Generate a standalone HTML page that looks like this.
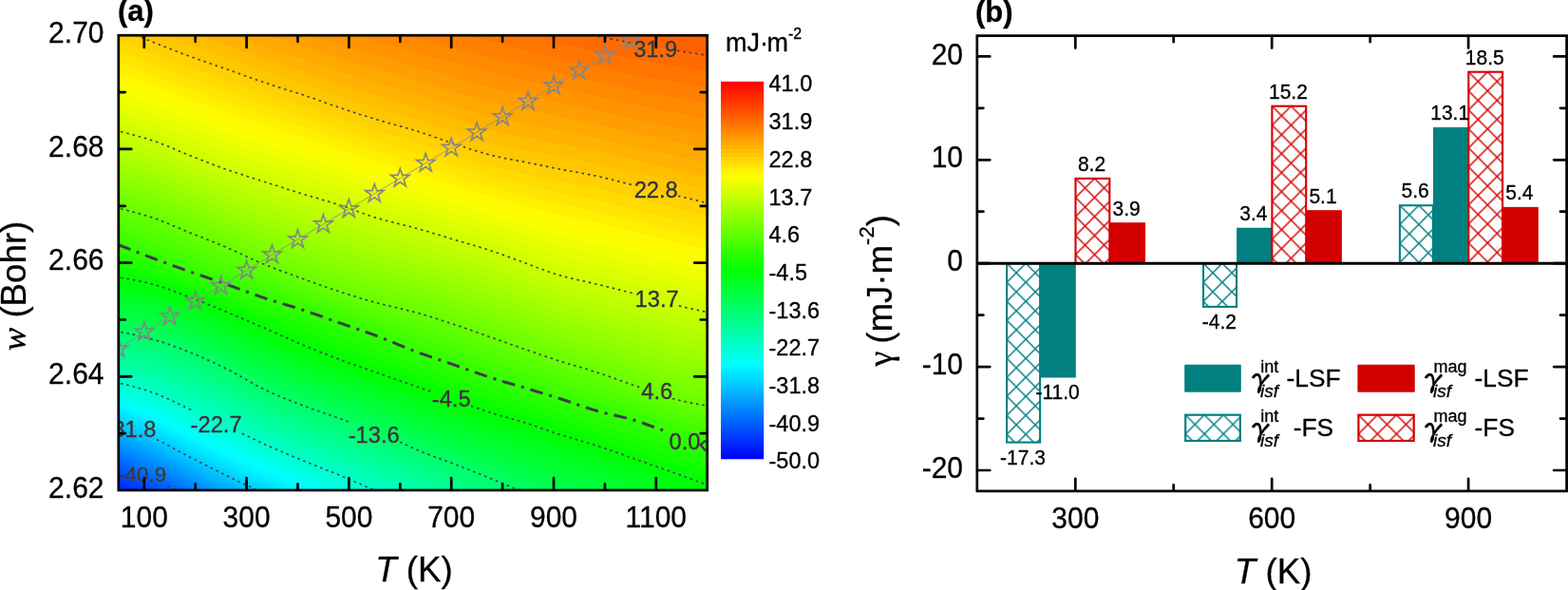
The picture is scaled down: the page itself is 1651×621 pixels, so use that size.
<!DOCTYPE html><html><head><meta charset="utf-8"><title>figure</title><style>html,body{margin:0;padding:0;background:#fff;width:1651px;height:621px;overflow:hidden}text{stroke:#000;stroke-width:.3px}</style></head><body>
<svg width="1651" height="621" viewBox="0 0 1651 621" style="position:absolute;left:0;top:0">
<defs>
<clipPath id="cpL"><rect x="124.8" y="37.2" width="619.9000000000001" height="478.8"/></clipPath>
</defs>
<g clip-path="url(#cpL)">
<rect x="124.8" y="37.2" width="619.9000000000001" height="478.8" fill="rgb(255,87,0)"/>
<path d="M121,34.2 703,34.2 748,41.2 L748,519.0 L121,519.0Z" fill="rgb(255,97,0)"/>
<path d="M121,34.2 613,34.2 640,40.3 664,45.0 748,58.8 L748,519.0 L121,519.0Z" fill="rgb(255,107,0)"/>
<path d="M121,34.2 547,34.3 610,50.1 646,58.2 685,65.5 748,76.1 L748,519.0 L121,519.0Z" fill="rgb(255,117,0)"/>
<path d="M121,34.2 478,34.2 601,64.2 637,72.5 679,80.9 748,93.1 L748,519.0 L121,519.0Z" fill="rgb(255,128,0)"/>
<path d="M121,34.2 418,34.3 508,58.0 607,81.5 664,93.9 748,109.7 L748,519.0 L121,519.0Z" fill="rgb(255,138,0)"/>
<path d="M121,34.2 361,34.2 364,34.7 397,44.0 442,55.9 493,70.3 517,76.6 658,108.1 748,126.0 L748,519.0 L121,519.0Z" fill="rgb(255,148,0)"/>
<path d="M121,34.2 316,34.2 379,53.7 439,70.2 493,86.1 514,91.8 628,116.3 670,125.7 748,141.8 L748,519.0 L121,519.0Z" fill="rgb(255,158,0)"/>
<path d="M121,34.2 274,34.2 367,64.3 397,73.2 439,84.7 475,96.0 511,106.6 526,110.1 628,130.8 670,140.4 748,157.2 L748,519.0 L121,519.0Z" fill="rgb(255,168,0)"/>
<path d="M121,34.2 235,34.2 238,34.6 280,49.6 319,62.0 361,76.1 397,87.1 442,99.7 475,110.4 511,121.4 526,124.9 628,145.0 670,154.8 748,172.2 L748,519.0 L121,519.0Z" fill="rgb(255,178,0)"/>
<path d="M121,34.2 199,34.2 202,35.0 280,62.6 319,75.0 361,89.4 397,100.5 442,113.3 475,124.3 511,135.6 529,139.7 631,159.4 748,186.7 L748,519.0 L121,519.0Z" fill="rgb(255,189,0)"/>
<path d="M121,34.2 166,34.2 205,48.8 283,76.2 319,87.6 373,106.0 400,114.4 442,126.4 475,137.6 508,148.2 529,153.2 631,172.8 748,200.8 L748,519.0 L121,519.0Z" fill="rgb(255,199,0)"/>
<path d="M121,34.2 136,34.2 172,48.7 196,57.9 277,86.4 319,99.9 376,119.4 400,126.9 442,139.0 475,150.2 508,160.9 529,166.1 631,186.0 748,214.4 L748,519.0 L121,519.0Z" fill="rgb(255,209,0)"/>
<path d="M121,40.7 199,71.0 274,97.2 319,111.7 382,133.2 400,138.8 442,150.8 475,162.1 508,172.8 520,176.0 532,178.7 589,190.7 634,199.4 748,227.5 L748,519.0 L121,519.0Z" fill="rgb(255,219,0)"/>
<path d="M121,52.6 145,61.5 202,83.5 274,108.6 322,124.0 388,146.3 442,162.0 475,173.2 508,183.8 526,188.6 583,201.6 634,211.8 748,240.0 L748,519.0 L121,519.0Z" fill="rgb(255,229,0)"/>
<path d="M121,64.2 145,72.7 208,96.8 268,117.6 325,135.8 391,158.1 442,172.8 475,183.8 508,194.2 526,199.1 580,212.6 637,224.4 748,252.1 L748,519.0 L121,519.0Z" fill="rgb(255,240,0)"/>
<path d="M121,75.5 160,89.1 214,109.8 256,124.3 334,149.3 394,169.5 442,183.1 505,203.3 583,224.7 637,236.1 748,263.8 L748,519.0 L121,519.0Z" fill="rgb(255,250,0)"/>
<path d="M121,86.4 160,99.4 199,114.7 238,128.8 283,143.5 349,164.4 397,180.7 439,192.2 502,212.1 583,235.7 595,238.7 640,248.2 712,266.4 748,275.1 L748,519.0 L121,519.0Z" fill="rgb(250,255,0)"/>
<path d="M121,97.0 145,104.4 163,110.6 202,126.0 241,140.2 352,175.2 397,190.6 442,203.0 478,214.3 586,247.4 643,260.0 712,277.6 748,286.3 L748,519.0 L121,519.0Z" fill="rgb(240,255,0)"/>
<path d="M121,107.3 145,114.4 163,120.4 214,140.5 232,147.1 250,153.2 355,185.9 394,199.5 448,214.5 520,236.5 580,256.2 595,260.3 628,267.4 652,273.1 712,288.7 748,297.3 L748,519.0 L121,519.0Z" fill="rgb(230,255,0)"/>
<path d="M121,117.3 127,119.3 145,124.2 163,130.0 217,151.4 250,163.1 313,182.9 355,195.6 397,210.2 442,222.2 517,244.9 583,267.5 598,271.5 628,278.1 655,284.6 712,299.6 748,308.1 L748,519.0 L121,519.0Z" fill="rgb(219,255,0)"/>
<path d="M121,127.1 127,129.1 145,133.8 163,139.5 217,161.0 235,167.7 250,172.7 316,193.6 355,205.3 397,219.8 442,231.8 514,253.4 529,258.4 574,274.7 586,278.6 601,282.6 628,288.6 655,295.2 712,310.4 748,318.8 L748,519.0 L121,519.0Z" fill="rgb(209,255,0)"/>
<path d="M121,136.7 127,138.6 145,143.2 163,148.7 220,171.5 253,183.2 316,203.2 358,215.9 394,228.6 442,241.3 514,262.9 529,268.0 574,284.7 586,288.8 601,292.8 628,299.0 661,307.2 712,321.1 748,329.5 L748,519.0 L121,519.0Z" fill="rgb(199,255,0)"/>
<path d="M121,145.8 127,147.7 145,152.2 163,157.7 223,181.7 241,188.3 262,195.4 316,212.9 358,225.6 394,238.2 442,250.7 511,271.4 526,276.5 571,293.4 586,298.6 598,302.0 628,309.2 658,316.9 709,331.1 748,340.1 L748,519.0 L121,519.0Z" fill="rgb(189,255,0)"/>
<path d="M121,154.5 127,156.4 148,161.6 166,167.2 199,180.8 235,194.8 262,204.5 301,217.7 358,235.4 394,247.8 442,260.0 511,280.8 526,286.0 571,303.0 586,308.3 598,311.7 625,318.3 646,323.9 706,341.1 724,345.4 748,350.6 L748,519.0 L121,519.0Z" fill="rgb(179,255,0)"/>
<path d="M121,162.9 127,164.8 145,169.0 163,174.4 172,177.7 196,187.9 220,197.4 268,215.6 313,231.2 358,245.3 388,255.4 403,259.7 433,266.7 445,269.9 505,288.2 526,295.3 577,314.6 592,319.5 637,331.2 706,351.8 724,356.0 748,361.0 L748,519.0 L121,519.0Z" fill="rgb(168,255,0)"/>
<path d="M121,171.0 127,172.9 148,177.9 166,183.4 202,198.4 274,226.7 319,242.6 385,263.9 403,269.0 439,277.2 460,283.3 517,301.3 571,321.6 586,326.9 598,330.4 634,339.9 700,360.6 721,365.8 748,371.1 L748,519.0 L121,519.0Z" fill="rgb(158,255,0)"/>
<path d="M121,179.0 127,180.9 148,185.8 166,191.3 274,235.5 307,247.6 337,257.8 394,275.8 436,285.3 463,293.1 517,310.5 571,330.7 586,335.9 634,349.3 700,370.9 721,376.1 748,381.1 L748,519.0 L121,519.0Z" fill="rgb(148,255,0)"/>
<path d="M121,186.8 127,188.7 148,193.6 166,199.2 238,228.6 277,245.2 310,257.6 343,268.9 391,283.9 403,287.0 436,294.1 463,301.9 517,319.6 583,343.8 595,347.5 634,358.5 700,380.9 721,386.0 748,390.9 L748,519.0 L121,519.0Z" fill="rgb(138,255,0)"/>
<path d="M121,194.6 127,196.5 148,201.4 160,205.0 169,208.1 199,220.7 238,236.5 277,253.7 310,266.2 346,278.7 391,292.7 403,295.7 436,302.8 460,309.6 511,326.4 583,352.5 595,356.3 631,366.5 700,390.5 721,395.7 748,400.5 L748,519.0 L121,519.0Z" fill="rgb(128,255,0)"/>
<path d="M121,202.3 127,204.2 148,209.2 169,215.9 238,244.4 268,258.0 280,263.1 313,275.6 349,288.2 391,301.1 403,304.1 436,311.4 460,318.3 505,333.2 580,360.1 595,364.9 631,375.4 700,399.8 721,405.0 748,409.8 L748,519.0 L121,519.0Z" fill="rgb(117,255,0)"/>
<path d="M121,210.1 127,212.0 148,217.2 169,223.9 238,252.2 268,266.0 280,271.1 310,282.5 349,296.3 373,304.0 391,309.2 403,312.3 436,319.9 460,326.9 496,338.9 583,369.6 634,385.1 700,408.7 721,414.0 748,418.9 L748,519.0 L121,519.0Z" fill="rgb(107,255,0)"/>
<path d="M121,217.9 127,219.8 148,225.2 169,232.1 238,260.1 268,273.9 280,279.0 307,289.1 352,305.1 391,317.1 436,328.4 460,335.5 490,345.5 580,377.0 637,394.7 700,417.2 724,423.3 748,427.8 L748,519.0 L121,519.0Z" fill="rgb(97,255,0)"/>
<path d="M121,225.6 148,233.7 169,240.8 238,268.2 268,281.5 280,286.4 352,312.1 388,323.4 439,337.6 460,344.1 577,384.1 628,400.2 655,409.0 700,425.0 724,431.3 748,436.1 L748,519.0 L121,519.0Z" fill="rgb(87,255,0)"/>
<path d="M121,233.4 148,242.4 169,249.9 238,276.3 280,293.5 355,319.5 457,351.7 520,373.3 559,386.2 616,404.6 667,420.3 700,432.1 724,438.6 748,443.9 L748,519.0 L121,519.0Z" fill="rgb(77,255,0)"/>
<path d="M121,241.0 193,267.9 238,284.2 280,300.4 319,313.1 358,326.6 397,339.5 433,352.1 481,368.2 517,380.8 625,415.4 667,427.2 703,439.8 724,445.8 748,451.6 L748,519.0 L121,519.0Z" fill="rgb(66,255,0)"/>
<path d="M121,248.5 178,270.4 238,291.7 274,305.1 322,320.3 388,343.0 439,362.2 514,388.1 586,410.4 625,423.2 667,434.3 706,447.7 727,453.8 748,459.3 L748,519.0 L121,519.0Z" fill="rgb(56,255,0)"/>
<path d="M121,255.8 157,269.9 187,280.9 277,312.8 322,326.9 385,348.9 400,354.4 439,370.0 511,395.1 586,418.0 625,431.0 667,441.6 706,455.0 748,467.4 L748,519.0 L121,519.0Z" fill="rgb(46,255,0)"/>
<path d="M121,263.1 274,318.3 322,334.1 388,357.5 400,362.0 439,377.7 508,401.9 523,406.8 577,422.9 625,438.6 670,450.5 700,461.0 748,476.0 L748,519.0 L121,519.0Z" fill="rgb(36,255,0)"/>
<path d="M121,270.3 160,282.9 178,289.2 226,306.6 280,326.9 394,367.7 439,385.3 505,408.5 523,414.3 562,425.8 625,446.0 670,458.8 697,468.3 748,485.1 L748,519.0 L121,519.0Z" fill="rgb(26,255,0)"/>
<path d="M121,277.4 157,287.3 178,294.2 223,310.9 355,362.1 397,376.9 436,391.6 502,414.9 520,420.8 556,431.3 601,445.9 667,466.3 748,494.3 L748,519.0 L121,519.0Z" fill="rgb(15,255,0)"/>
<path d="M121,284.2 157,292.7 166,295.2 178,299.3 232,319.9 316,354.7 352,368.9 433,397.8 472,411.2 499,421.1 520,428.0 556,438.6 589,449.7 640,465.5 703,487.1 748,503.2 L748,519.0 L121,519.0Z" fill="rgb(5,255,0)"/>
<path d="M121,290.8 127,292.3 139,294.3 154,297.5 166,300.6 175,303.5 223,321.9 262,338.2 319,363.1 343,372.8 364,380.8 469,417.3 508,431.4 556,445.9 589,457.2 622,467.1 637,471.9 706,496.2 748,511.7 L748,519.0 L121,519.0Z" fill="rgb(0,255,5)"/>
<path d="M121,297.0 127,298.5 142,300.8 157,304.0 166,306.3 178,310.2 205,320.4 223,327.7 256,341.8 316,368.7 337,377.3 361,386.6 469,424.4 505,437.6 523,443.5 556,453.3 592,465.7 631,477.3 706,504.0 745,518.6 748,519.0 L748,519.0 L121,519.0Z" fill="rgb(0,255,15)"/>
<path d="M121,303.1 127,304.5 142,306.7 157,309.8 169,312.9 181,317.0 208,327.3 229,336.1 250,345.3 310,372.7 337,384.0 385,401.9 469,431.4 505,444.7 523,450.7 559,461.7 592,473.2 631,484.8 724,518.3 727,519.0 748,519.0 L748,519.0 L121,519.0Z" fill="rgb(0,255,26)"/>
<path d="M121,308.9 127,310.4 145,313.1 160,316.3 172,319.6 184,323.8 208,333.1 229,342.0 304,376.6 331,388.1 391,410.7 421,421.1 475,440.5 496,448.5 520,456.9 559,469.2 592,480.7 631,492.2 667,505.5 706,519.0 748,519.0 L748,519.0 L121,519.0Z" fill="rgb(0,255,36)"/>
<path d="M121,314.7 127,316.1 145,318.9 160,322.1 169,324.5 181,328.5 205,337.7 223,345.2 244,354.7 277,370.8 301,381.8 319,389.6 340,397.9 394,418.2 421,427.6 442,435.6 472,446.3 517,463.0 541,471.2 559,476.7 589,487.2 631,499.7 682,518.2 685,519.0 748,519.0 L748,519.0 L121,519.0Z" fill="rgb(0,255,46)"/>
<path d="M121,320.3 127,321.8 145,324.7 160,328.0 172,331.3 184,335.5 205,343.5 223,351.1 244,360.8 274,375.9 286,381.6 310,392.2 331,400.7 367,414.0 394,424.6 421,434.0 445,443.4 538,477.6 559,484.1 592,495.5 628,506.1 661,518.1 664,519.0 748,519.0 L748,519.0 L121,519.0Z" fill="rgb(0,255,56)"/>
<path d="M121,325.9 127,327.4 145,330.5 160,333.8 172,337.2 187,342.4 205,349.3 223,357.0 244,366.8 280,385.4 301,394.8 325,404.6 367,420.0 394,430.9 421,440.3 445,450.1 475,461.0 541,485.9 559,491.4 589,501.8 625,512.5 643,518.7 646,519.0 748,519.0 L748,519.0 L121,519.0Z" fill="rgb(0,255,66)"/>
<path d="M121,331.4 127,332.9 145,336.2 163,340.4 175,344.1 190,349.4 208,356.4 226,364.3 244,372.9 280,391.9 298,399.9 316,407.2 367,426.0 394,437.1 421,446.6 445,456.6 478,468.8 541,493.1 559,498.6 586,508.0 598,511.8 622,518.8 625,519.0 748,519.0 L748,519.0 L121,519.0Z" fill="rgb(0,255,76)"/>
<path d="M121,336.9 127,338.5 145,341.9 163,346.3 178,350.9 193,356.4 211,363.6 229,371.7 244,379.0 277,396.8 289,402.4 307,409.9 325,416.9 367,432.0 394,443.3 421,452.8 442,462.0 478,475.4 541,500.2 559,505.7 598,518.8 748,519.0 L748,519.0 L121,519.0Z" fill="rgb(0,255,87)"/>
<path d="M121,342.4 127,344.0 145,347.6 163,352.1 178,356.8 196,363.4 214,370.8 232,379.1 244,385.0 277,403.1 298,412.4 325,422.9 367,438.0 394,449.5 421,459.1 442,468.4 484,484.2 541,507.1 559,512.6 577,518.8 748,519.0 L748,519.0 L121,519.0Z" fill="rgb(0,255,97)"/>
<path d="M121,347.9 127,349.6 145,353.2 163,357.8 178,362.6 199,370.5 217,378.1 238,388.0 274,407.7 283,412.1 295,417.3 322,427.9 367,444.0 394,455.7 421,465.3 442,474.7 493,494.2 541,513.8 556,518.3 559,519.0 748,519.0 L748,519.0 L121,519.0Z" fill="rgb(0,255,107)"/>
<path d="M121,353.5 127,355.2 145,358.9 163,363.5 178,368.4 196,375.3 214,382.8 238,394.1 274,413.8 292,422.1 322,434.0 367,450.2 394,461.9 421,471.5 442,481.1 493,500.5 538,519.0 748,519.0 L748,519.0 L121,519.0Z" fill="rgb(0,255,117)"/>
<path d="M121,359.1 127,360.8 145,364.5 163,369.3 175,373.2 190,378.9 211,387.6 235,398.8 247,404.9 274,419.8 292,428.1 322,440.0 364,455.1 394,468.1 421,477.7 445,488.5 484,503.3 523,519.0 748,519.0 L748,519.0 L121,519.0Z" fill="rgb(0,255,128)"/>
<path d="M121,364.8 127,366.5 145,370.2 160,374.2 172,378.1 187,383.8 208,392.5 238,406.5 274,425.7 292,434.0 322,445.9 364,461.3 394,474.3 421,483.9 445,494.7 478,507.1 508,519.0 748,519.0 L748,519.0 L121,519.0Z" fill="rgb(0,255,138)"/>
<path d="M121,370.4 127,372.2 142,375.2 157,379.1 169,382.9 181,387.4 208,398.8 238,412.8 250,418.7 274,431.5 292,439.8 322,451.8 364,467.4 394,480.4 421,490.0 439,498.4 448,502.0 493,519.0 748,519.0 L748,519.0 L121,519.0Z" fill="rgb(0,255,148)"/>
<path d="M121,376.0 127,377.8 139,380.1 154,384.0 166,387.6 178,392.1 205,403.6 241,420.4 277,438.8 292,445.6 322,457.7 364,473.6 394,486.5 421,496.1 439,504.4 448,508.1 478,519.0 748,519.0 L748,519.0 L121,519.0Z" fill="rgb(0,255,158)"/>
<path d="M121,381.4 127,383.2 139,385.6 151,388.7 163,392.3 175,396.7 208,411.2 247,429.4 277,444.5 292,451.2 322,463.5 361,478.4 394,492.5 421,502.1 439,510.4 460,518.6 463,519.0 748,519.0 L748,519.0 L121,519.0Z" fill="rgb(0,255,168)"/>
<path d="M121,386.7 127,388.6 139,391.1 151,394.2 163,397.9 172,401.2 205,415.9 250,436.8 277,450.2 292,456.9 322,469.2 361,484.4 394,498.5 421,508.1 445,518.8 748,519.0 L748,519.0 L121,519.0Z" fill="rgb(0,255,178)"/>
<path d="M121,391.8 127,393.8 139,396.3 151,399.6 163,403.4 172,406.8 250,442.7 277,455.8 292,462.5 322,474.9 361,490.2 394,504.3 418,512.8 433,519.0 748,519.0 L748,519.0 L121,519.0Z" fill="rgb(0,255,189)"/>
<path d="M121,396.8 127,398.8 136,400.8 148,404.0 160,407.7 169,411.0 184,417.7 226,437.8 253,449.8 277,461.3 292,468.0 322,480.5 358,494.8 394,510.1 418,518.5 421,519.0 748,519.0 L748,519.0 L121,519.0Z" fill="rgb(0,255,199)"/>
<path d="M121,401.6 127,403.7 148,409.1 160,412.9 169,416.3 181,421.7 226,443.4 253,455.4 286,470.9 319,484.8 358,500.4 391,514.5 403,519.0 748,519.0 L748,519.0 L121,519.0Z" fill="rgb(0,255,209)"/>
<path d="M121,406.2 127,408.3 139,411.3 151,415.0 169,421.5 181,427.0 226,449.0 256,462.4 283,475.0 319,490.3 358,506.0 388,518.8 748,519.0 L748,519.0 L121,519.0Z" fill="rgb(0,255,219)"/>
<path d="M121,410.5 127,412.7 148,418.8 166,425.3 178,430.7 226,454.4 256,467.9 283,480.5 316,494.5 376,519.0 748,519.0 L748,519.0 L121,519.0Z" fill="rgb(0,255,229)"/>
<path d="M121,414.7 127,416.9 148,423.5 166,430.3 178,435.8 226,459.7 283,486.0 322,502.5 361,518.2 364,519.0 748,519.0 L748,519.0 L121,519.0Z" fill="rgb(0,255,240)"/>
<path d="M121,418.7 151,429.2 166,435.1 226,464.9 280,490.0 310,502.9 349,518.7 352,519.0 748,519.0 L748,519.0 L121,519.0Z" fill="rgb(0,255,250)"/>
<path d="M121,422.7 151,433.8 166,439.9 226,470.0 277,494.0 307,507.0 337,519.0 748,519.0 L748,519.0 L121,519.0Z" fill="rgb(0,250,255)"/>
<path d="M121,426.6 163,443.3 226,475.0 277,499.2 319,517.2 322,518.4 325,519.0 748,519.0 L748,519.0 L121,519.0Z" fill="rgb(0,240,255)"/>
<path d="M121,430.6 163,447.9 214,474.0 238,485.8 280,505.7 310,518.6 313,519.0 748,519.0 L748,519.0 L121,519.0Z" fill="rgb(0,230,255)"/>
<path d="M121,434.5 163,452.5 214,478.8 247,495.1 283,512.1 298,518.6 301,519.0 748,519.0 L748,519.0 L121,519.0Z" fill="rgb(0,219,255)"/>
<path d="M121,438.5 163,457.1 199,475.9 238,495.5 280,515.6 286,518.3 289,519.0 748,519.0 L748,519.0 L121,519.0Z" fill="rgb(0,209,255)"/>
<path d="M121,442.6 163,461.6 223,492.8 277,519.0 748,519.0 L748,519.0 L121,519.0Z" fill="rgb(0,199,255)"/>
<path d="M121,446.8 163,466.1 223,497.3 253,512.2 268,519.0 748,519.0 L748,519.0 L121,519.0Z" fill="rgb(0,189,255)"/>
<path d="M121,450.9 163,470.4 220,500.2 253,516.6 259,519.0 748,519.0 L748,519.0 L121,519.0Z" fill="rgb(0,178,255)"/>
<path d="M121,455.1 163,474.7 214,501.5 247,518.0 250,519.0 748,519.0 L748,519.0 L121,519.0Z" fill="rgb(0,168,255)"/>
<path d="M121,459.3 166,480.5 205,501.1 241,519.0 748,519.0 L748,519.0 L121,519.0Z" fill="rgb(0,158,255)"/>
<path d="M121,463.5 166,484.7 199,502.2 232,518.9 748,519.0 L748,519.0 L121,519.0Z" fill="rgb(0,148,255)"/>
<path d="M121,467.7 169,490.4 223,518.5 226,519.0 748,519.0 L748,519.0 L121,519.0Z" fill="rgb(0,138,255)"/>
<path d="M121,471.9 166,493.1 214,518.1 217,519.0 748,519.0 L748,519.0 L121,519.0Z" fill="rgb(0,128,255)"/>
<path d="M121,476.1 172,500.2 208,519.0 748,519.0 L748,519.0 L121,519.0Z" fill="rgb(0,117,255)"/>
<path d="M121,480.3 172,504.4 199,518.7 202,519.0 748,519.0 L748,519.0 L121,519.0Z" fill="rgb(0,107,255)"/>
<path d="M121,484.5 172,508.6 190,518.2 193,519.0 748,519.0 L748,519.0 L121,519.0Z" fill="rgb(0,97,255)"/>
<path d="M121,488.7 172,512.9 184,519.0 748,519.0 L748,519.0 L121,519.0Z" fill="rgb(0,87,255)"/>
<path d="M121,492.9 175,518.6 178,519.0 748,519.0 L748,519.0 L121,519.0Z" fill="rgb(0,77,255)"/>
<path d="M121,497.1 166,518.5 169,519.0 748,519.0 L748,519.0 L121,519.0Z" fill="rgb(0,66,255)"/>
<path d="M121,501.3 157,518.5 160,519.0 748,519.0 L748,519.0 L121,519.0Z" fill="rgb(0,56,255)"/>
<path d="M121,505.5 148,518.3 151,519.0 748,519.0 L748,519.0 L121,519.0Z" fill="rgb(0,46,255)"/>
<path d="M121,509.7 139,518.2 142,519.0 748,519.0 L748,519.0 L121,519.0Z" fill="rgb(0,36,255)"/>
<path d="M121,513.8 130,518.1 133,519.0 748,519.0 L748,519.0 L121,519.0Z" fill="rgb(0,25,255)"/>
</g>
<g clip-path="url(#cpL)" fill="none">
<path d="M605,32.2 606,32.5 607,32.7 608,33.0 609,33.2 610,33.4 611,33.7 612,33.9 613,34.2 614,34.4 615,34.7 616,34.9 617,35.1 618,35.4 619,35.6 620,35.8 621,36.1 622,36.3 623,36.5 624,36.8 625,37.0 626,37.2 627,37.5 628,37.7 629,37.9 630,38.1 631,38.4 632,38.6 633,38.8 634,39.0 635,39.2 636,39.4 637,39.7 638,39.9 639,40.1 640,40.3 641,40.5 642,40.7 643,40.9 644,41.1 645,41.3 646,41.5 647,41.7 648,41.9 649,42.1 650,42.3 651,42.5 652,42.7 653,42.9 654,43.1 655,43.3 656,43.5 657,43.7 658,43.9 659,44.1 660,44.2 661,44.4 662,44.6 663,44.8 664,45.0 665,45.2 666,45.3 667,45.5M713,53.3 714,53.4 715,53.6 716,53.7 717,53.9 718,54.1 719,54.2 720,54.4 721,54.6 722,54.7 723,54.9 724,55.0 725,55.2 726,55.4 727,55.5 728,55.7 729,55.8 730,56.0 731,56.1 732,56.3 733,56.5 734,56.6 735,56.8 736,56.9 737,57.1 738,57.2 739,57.4 740,57.6 741,57.7 742,57.9 743,58.0 744,58.2 745,58.3 746,58.5 747,58.6 748,58.8 749,58.9 750,59.1" stroke="#3d3a4c" stroke-width="1.6" stroke-dasharray="2.5 3.9"/>
<path d="M131,32.2 132,32.6 133,33.0 134,33.4 135,33.8 136,34.2 137,34.6 138,35.0 139,35.4 140,35.8 141,36.2 142,36.6 143,37.0 144,37.3 145,37.7 146,38.2 147,38.6 148,39.0 149,39.4 150,39.8 151,40.2 152,40.6 153,41.1 154,41.5 155,41.9 156,42.3 157,42.7 158,43.1 159,43.5 160,43.9 161,44.3 162,44.7 163,45.1 164,45.5 165,45.9 166,46.3 167,46.7 168,47.1 169,47.5 170,47.9 171,48.3 172,48.7 173,49.1 174,49.5 175,49.9 176,50.3 177,50.7 178,51.1 179,51.5 180,51.8 181,52.2 182,52.6 183,53.0 184,53.4 185,53.8 186,54.1 187,54.5 188,54.9 189,55.3 190,55.7 191,56.0 192,56.4 193,56.8 194,57.2 195,57.5 196,57.9 197,58.3 198,58.6 199,59.0 200,59.4 201,59.8 202,60.1 203,60.5 204,60.8 205,61.2 206,61.6 207,61.9 208,62.3 209,62.6 210,63.0 211,63.3 212,63.7 213,64.0 214,64.4 215,64.7 216,65.1 217,65.4 218,65.7 219,66.1 220,66.4 221,66.8 222,67.1 223,67.5 224,67.8 225,68.1 226,68.5 227,68.8 228,69.2 229,69.5 230,69.9 231,70.2 232,70.5 233,70.9 234,71.2 235,71.6 236,71.9 237,72.3 238,72.6 239,73.0 240,73.3 241,73.7 242,74.0 243,74.4 244,74.7 245,75.1 246,75.5 247,75.8 248,76.2 249,76.5 250,76.9 251,77.2 252,77.6 253,78.0 254,78.3 255,78.7 256,79.0 257,79.4 258,79.8 259,80.1 260,80.5 261,80.8 262,81.2 263,81.5 264,81.9 265,82.3 266,82.6 267,83.0 268,83.3 269,83.7 270,84.0 271,84.4 272,84.7 273,85.1 274,85.4 275,85.8 276,86.1 277,86.4 278,86.8 279,87.1 280,87.5 281,87.8 282,88.1 283,88.5 284,88.8 285,89.1 286,89.4 287,89.8 288,90.1 289,90.4 290,90.7 291,91.0 292,91.4 293,91.7 294,92.0 295,92.3 296,92.6 297,92.9 298,93.2 299,93.5 300,93.9 301,94.2 302,94.5 303,94.8 304,95.1 305,95.4 306,95.7 307,96.0 308,96.3 309,96.6 310,97.0 311,97.3 312,97.6 313,97.9 314,98.2 315,98.6 316,98.9 317,99.2 318,99.5 319,99.9 320,100.2 321,100.5 322,100.9 323,101.2 324,101.6 325,101.9 326,102.2 327,102.6 328,102.9 329,103.3 330,103.6 331,104.0 332,104.4 333,104.7 334,105.1 335,105.4 336,105.8 337,106.1 338,106.5 339,106.8 340,107.2 341,107.6 342,107.9 343,108.3 344,108.6 345,109.0 346,109.3 347,109.7 348,110.0 349,110.4 350,110.7 351,111.1 352,111.4 353,111.8 354,112.1 355,112.5 356,112.8 357,113.1 358,113.5 359,113.8 360,114.1 361,114.5 362,114.8 363,115.1 364,115.5 365,115.8 366,116.1 367,116.5 368,116.8 369,117.1 370,117.4 371,117.8 372,118.1 373,118.4 374,118.7 375,119.1 376,119.4 377,119.7 378,120.0 379,120.4 380,120.7 381,121.0 382,121.3 383,121.6 384,121.9 385,122.3 386,122.6 387,122.9 388,123.2 389,123.5 390,123.8 391,124.1 392,124.4 393,124.8 394,125.1 395,125.4 396,125.7 397,126.0 398,126.3 399,126.6 400,126.9 401,127.2 402,127.5 403,127.7 404,128.0 405,128.3 406,128.6 407,128.9 408,129.2 409,129.5 410,129.7 411,130.0 412,130.3 413,130.6 414,130.9 415,131.1 416,131.4 417,131.7 418,132.0 419,132.2 420,132.5 421,132.8 422,133.1 423,133.4 424,133.6 425,133.9 426,134.2 427,134.5 428,134.8 429,135.1 430,135.3 431,135.6 432,135.9 433,136.2 434,136.5 435,136.8 436,137.1 437,137.4 438,137.7 439,138.0 440,138.3 441,138.7 442,139.0 443,139.3 444,139.6 445,139.9 446,140.3 447,140.6 448,140.9 449,141.3 450,141.6 451,141.9 452,142.3 453,142.6 454,143.0 455,143.3 456,143.7 457,144.0 458,144.4 459,144.7 460,145.1 461,145.4 462,145.8 463,146.1 464,146.5 465,146.8 466,147.2 467,147.5 468,147.9 469,148.2 470,148.6 471,148.9 472,149.2 473,149.6 474,149.9 475,150.2 476,150.6 477,150.9 478,151.2 479,151.6 480,151.9 481,152.2 482,152.5 483,152.9 484,153.2 485,153.5 486,153.9 487,154.2 488,154.5 489,154.9 490,155.2 491,155.5 492,155.9 493,156.2 494,156.5 495,156.9 496,157.2 497,157.5 498,157.8 499,158.2 500,158.5 501,158.8 502,159.1 503,159.4 504,159.7 505,160.0 506,160.3 507,160.6 508,160.9 509,161.2 510,161.5 511,161.8 512,162.1 513,162.3 514,162.6 515,162.9 516,163.1 517,163.4 518,163.6 519,163.9 520,164.1 521,164.3 522,164.6 523,164.8 524,165.0 525,165.2 526,165.4 527,165.6 528,165.9 529,166.1 530,166.3 531,166.5 532,166.7 533,166.9 534,167.1 535,167.2 536,167.4 537,167.6 538,167.8 539,168.0 540,168.2 541,168.4 542,168.6 543,168.8 544,168.9 545,169.1 546,169.3 547,169.5 548,169.7 549,169.9 550,170.1 551,170.3 552,170.5 553,170.7 554,170.9 555,171.1 556,171.3 557,171.5 558,171.7 559,171.9 560,172.1 561,172.3 562,172.5 563,172.7 564,172.9 565,173.1 566,173.3 567,173.5 568,173.7 569,173.9 570,174.1 571,174.3 572,174.5 573,174.7 574,174.9 575,175.1 576,175.3 577,175.6 578,175.8 579,176.0 580,176.2 581,176.4 582,176.6 583,176.8 584,177.0 585,177.2 586,177.4 587,177.6 588,177.8 589,178.0 590,178.2 591,178.4 592,178.5 593,178.7 594,178.9 595,179.1 596,179.3 597,179.5 598,179.7 599,179.9 600,180.0 601,180.2 602,180.4 603,180.6 604,180.8 605,181.0 606,181.1 607,181.3 608,181.5 609,181.7 610,181.9 611,182.0 612,182.2 613,182.4 614,182.6 615,182.8 616,183.0 617,183.1 618,183.3 619,183.5 620,183.7 621,183.9 622,184.1 623,184.3 624,184.5 625,184.7 626,184.9 627,185.1 628,185.3 629,185.5 630,185.8 631,186.0 632,186.2 633,186.4 634,186.7 635,186.9 636,187.1 637,187.4 638,187.6 639,187.8 640,188.1 641,188.3 642,188.6 643,188.8 644,189.1 645,189.3 646,189.6 647,189.8 648,190.1 649,190.3 650,190.6 651,190.9 652,191.1 653,191.4 654,191.6 655,191.9 656,192.1 657,192.4 658,192.6 659,192.9 660,193.1 661,193.4 662,193.6 663,193.9 664,194.1 665,194.4 666,194.6 667,194.9 668,195.1M714,206.2 715,206.5 716,206.7 717,207.0 718,207.2 719,207.5 720,207.7 721,207.9 722,208.2 723,208.4 724,208.7 725,208.9 726,209.1 727,209.4 728,209.6 729,209.9 730,210.1 731,210.3 732,210.6 733,210.8 734,211.1 735,211.3 736,211.5 737,211.8 738,212.0 739,212.3 740,212.5 741,212.7 742,213.0 743,213.2 744,213.5 745,213.7 746,213.9 747,214.2 748,214.4 749,214.7 750,214.9" stroke="#3d3a4c" stroke-width="1.6" stroke-dasharray="2.5 3.9"/>
<path d="M121,136.7 122,137.0 123,137.3 124,137.7 125,138.0 126,138.4 127,138.6 128,138.8 129,139.0 130,139.3 131,139.5 132,139.8 133,140.0 134,140.2 135,140.5 136,140.7 137,141.0 138,141.3 139,141.5 140,141.8 141,142.1 142,142.3 143,142.6 144,142.9 145,143.2 146,143.5 147,143.7 148,144.0 149,144.3 150,144.6 151,144.9 152,145.2 153,145.5 154,145.8 155,146.1 156,146.5 157,146.8 158,147.1 159,147.4 160,147.7 161,148.1 162,148.4 163,148.7 164,149.1 165,149.4 166,149.8 167,150.2 168,150.5 169,150.9 170,151.3 171,151.7 172,152.1 173,152.5 174,152.9 175,153.3 176,153.7 177,154.1 178,154.5 179,155.0 180,155.4 181,155.8 182,156.2 183,156.6 184,157.1 185,157.5 186,157.9 187,158.4 188,158.8 189,159.2 190,159.6 191,160.0 192,160.5 193,160.9 194,161.3 195,161.7 196,162.1 197,162.5 198,162.9 199,163.3 200,163.7 201,164.1 202,164.5 203,164.9 204,165.3 205,165.6 206,166.0 207,166.4 208,166.8 209,167.2 210,167.6 211,168.0 212,168.4 213,168.8 214,169.2 215,169.6 216,169.9 217,170.3 218,170.7 219,171.1 220,171.5 221,171.9 222,172.2 223,172.6 224,173.0 225,173.4 226,173.8 227,174.1 228,174.5 229,174.9 230,175.2 231,175.6 232,176.0 233,176.3 234,176.7 235,177.1 236,177.4 237,177.8 238,178.1 239,178.5 240,178.8 241,179.2 242,179.5 243,179.9 244,180.2 245,180.5 246,180.9 247,181.2 248,181.5 249,181.9 250,182.2 251,182.5 252,182.9 253,183.2 254,183.5 255,183.8 256,184.2 257,184.5 258,184.8 259,185.1 260,185.5 261,185.8 262,186.1 263,186.4 264,186.7 265,187.0 266,187.4 267,187.7 268,188.0 269,188.3 270,188.6 271,188.9 272,189.3 273,189.6 274,189.9 275,190.2 276,190.5 277,190.8 278,191.2 279,191.5 280,191.8 281,192.1 282,192.4 283,192.8 284,193.1 285,193.4 286,193.7 287,194.0 288,194.4 289,194.7 290,195.0 291,195.3 292,195.6 293,196.0 294,196.3 295,196.6 296,196.9 297,197.2 298,197.6 299,197.9 300,198.2 301,198.5 302,198.8 303,199.2 304,199.5 305,199.8 306,200.1 307,200.4 308,200.7 309,201.0 310,201.4 311,201.7 312,202.0 313,202.3 314,202.6 315,202.9 316,203.2 317,203.5 318,203.9 319,204.2 320,204.5 321,204.8 322,205.1 323,205.4 324,205.7 325,206.0 326,206.3 327,206.6 328,206.9 329,207.2 330,207.5 331,207.7 332,208.0 333,208.3 334,208.6 335,208.9 336,209.2 337,209.5 338,209.8 339,210.1 340,210.4 341,210.7 342,211.0 343,211.3 344,211.5 345,211.8 346,212.1 347,212.4 348,212.7 349,213.0 350,213.3 351,213.7 352,214.0 353,214.3 354,214.6 355,214.9 356,215.2 357,215.5 358,215.9 359,216.2 360,216.5 361,216.9 362,217.2 363,217.5 364,217.9 365,218.2 366,218.6 367,219.0 368,219.3 369,219.7 370,220.1 371,220.4 372,220.8 373,221.2 374,221.5 375,221.9 376,222.3 377,222.6 378,223.0 379,223.4 380,223.7 381,224.1 382,224.5 383,224.8 384,225.2 385,225.5 386,225.9 387,226.2 388,226.6 389,226.9 390,227.3 391,227.6 392,227.9 393,228.2 394,228.6 395,228.9 396,229.2 397,229.5 398,229.8 399,230.1 400,230.3 401,230.6 402,230.9 403,231.2 404,231.5 405,231.7 406,232.0 407,232.3 408,232.5 409,232.8 410,233.1 411,233.3 412,233.6 413,233.8 414,234.1 415,234.3 416,234.6 417,234.8 418,235.1 419,235.3 420,235.6 421,235.8 422,236.1 423,236.3 424,236.6 425,236.8 426,237.1 427,237.3 428,237.6 429,237.8 430,238.1 431,238.3 432,238.6 433,238.9 434,239.1 435,239.4 436,239.6 437,239.9 438,240.2 439,240.5 440,240.7 441,241.0 442,241.3 443,241.6 444,241.9 445,242.2 446,242.5 447,242.8 448,243.0 449,243.3 450,243.6 451,243.9 452,244.2 453,244.5 454,244.8 455,245.1 456,245.4 457,245.7 458,246.0 459,246.4 460,246.7 461,247.0 462,247.3 463,247.6 464,247.9 465,248.2 466,248.5 467,248.8 468,249.1 469,249.4 470,249.7 471,250.0 472,250.3 473,250.6 474,250.9 475,251.3 476,251.6 477,251.9 478,252.2 479,252.5 480,252.8 481,253.1 482,253.4 483,253.6 484,253.9 485,254.2 486,254.5 487,254.8 488,255.1 489,255.4 490,255.7 491,256.0 492,256.3 493,256.6 494,256.9 495,257.1 496,257.4 497,257.7 498,258.0 499,258.3 500,258.6 501,258.9 502,259.2 503,259.5 504,259.8 505,260.1 506,260.4 507,260.7 508,261.0 509,261.3 510,261.6 511,261.9 512,262.2 513,262.6 514,262.9 515,263.2 516,263.5 517,263.8 518,264.2 519,264.5 520,264.8 521,265.2 522,265.5 523,265.9 524,266.2 525,266.6 526,266.9 527,267.3 528,267.7 529,268.0 530,268.4 531,268.8 532,269.1 533,269.5 534,269.9 535,270.2 536,270.6 537,271.0 538,271.3 539,271.7 540,272.1 541,272.4 542,272.8 543,273.2 544,273.5 545,273.9 546,274.2 547,274.6 548,275.0 549,275.3 550,275.7 551,276.1 552,276.5 553,276.8 554,277.2 555,277.6 556,278.0 557,278.3 558,278.7 559,279.1 560,279.5 561,279.9 562,280.3 563,280.6 564,281.0 565,281.4 566,281.8 567,282.1 568,282.5 569,282.9 570,283.3 571,283.6 572,284.0 573,284.4 574,284.7 575,285.1 576,285.4 577,285.8 578,286.1 579,286.5 580,286.8 581,287.1 582,287.5 583,287.8 584,288.1 585,288.4 586,288.8 587,289.1 588,289.4 589,289.7 590,289.9 591,290.2 592,290.5 593,290.8 594,291.0 595,291.3 596,291.6 597,291.8 598,292.1 599,292.3 600,292.6 601,292.8 602,293.1 603,293.3 604,293.5 605,293.8 606,294.0 607,294.2 608,294.5 609,294.7 610,294.9 611,295.1 612,295.4 613,295.6 614,295.8 615,296.0 616,296.2 617,296.5 618,296.7 619,296.9 620,297.1 621,297.4 622,297.6 623,297.8 624,298.1 625,298.3 626,298.5 627,298.8 628,299.0 629,299.2 630,299.5 631,299.7 632,300.0 633,300.2 634,300.5 635,300.7 636,301.0 637,301.2 638,301.5 639,301.7 640,301.9 641,302.2 642,302.4 643,302.7 644,302.9 645,303.2 646,303.4 647,303.7 648,303.9 649,304.2 650,304.4 651,304.7 652,304.9 653,305.2 654,305.4 655,305.7 656,305.9 657,306.2 658,306.5 659,306.7 660,307.0 661,307.2 662,307.5 663,307.7 664,308.0 665,308.2 666,308.5 667,308.8 668,309.0 669,309.3M715,321.9 716,322.1 717,322.4 718,322.6 719,322.8 720,323.1 721,323.3 722,323.6 723,323.8 724,324.0 725,324.3 726,324.5 727,324.7 728,324.9 729,325.2 730,325.4 731,325.6 732,325.8 733,326.1 734,326.3 735,326.5 736,326.7 737,326.9 738,327.2 739,327.4 740,327.6 741,327.8 742,328.0 743,328.2 744,328.5 745,328.7 746,329.0 747,329.2 748,329.5 749,329.8 750,330.0" stroke="#3d3a4c" stroke-width="1.6" stroke-dasharray="2.5 3.9"/>
<path d="M121,217.9 122,218.2 123,218.5 124,218.9 125,219.2 126,219.6 127,219.8 128,220.0 129,220.2 130,220.5 131,220.7 132,221.0 133,221.2 134,221.4 135,221.7 136,221.9 137,222.2 138,222.5 139,222.7 140,223.0 141,223.3 142,223.5 143,223.8 144,224.1 145,224.4 146,224.7 147,224.9 148,225.2 149,225.5 150,225.8 151,226.1 152,226.4 153,226.7 154,227.0 155,227.3 156,227.7 157,228.0 158,228.3 159,228.6 160,228.9 161,229.3 162,229.6 163,229.9 164,230.3 165,230.6 166,231.0 167,231.4 168,231.7 169,232.1 170,232.5 171,232.9 172,233.3 173,233.7 174,234.1 175,234.5 176,234.9 177,235.3 178,235.7 179,236.1 180,236.5 181,236.9 182,237.4 183,237.8 184,238.2 185,238.6 186,239.1 187,239.5 188,239.9 189,240.3 190,240.8 191,241.2 192,241.6 193,242.0 194,242.4 195,242.9 196,243.3 197,243.7 198,244.1 199,244.5 200,244.9 201,245.3 202,245.7 203,246.1 204,246.5 205,246.9 206,247.3 207,247.7 208,248.1 209,248.5 210,248.9 211,249.2 212,249.6 213,250.0 214,250.4 215,250.8 216,251.2 217,251.6 218,252.0 219,252.4 220,252.8 221,253.2 222,253.6 223,254.0 224,254.4 225,254.8 226,255.2 227,255.6 228,256.0 229,256.4 230,256.8 231,257.2 232,257.6 233,258.0 234,258.4 235,258.9 236,259.3 237,259.7 238,260.1 239,260.5 240,261.0 241,261.4 242,261.9 243,262.3 244,262.7 245,263.2 246,263.7 247,264.1 248,264.6 249,265.0 250,265.5 251,266.0 252,266.4 253,266.9 254,267.4 255,267.9 256,268.3 257,268.8 258,269.3 259,269.7 260,270.2 261,270.7 262,271.1 263,271.6 264,272.1 265,272.5 266,273.0 267,273.4 268,273.9 269,274.3 270,274.8 271,275.2 272,275.7 273,276.1 274,276.5 275,276.9 276,277.3 277,277.7 278,278.1 279,278.5 280,279.0 281,279.3 282,279.7 283,280.1 284,280.5 285,280.9 286,281.3 287,281.7 288,282.1 289,282.5 290,282.8 291,283.2 292,283.6 293,284.0 294,284.4 295,284.7 296,285.1 297,285.5 298,285.8 299,286.2 300,286.6 301,287.0 302,287.3 303,287.7 304,288.0 305,288.4 306,288.8 307,289.1 308,289.5 309,289.9 310,290.2 311,290.6 312,290.9 313,291.3 314,291.7 315,292.0 316,292.4 317,292.7 318,293.1 319,293.5 320,293.8 321,294.2 322,294.6 323,294.9 324,295.3 325,295.6 326,296.0 327,296.4 328,296.7 329,297.1 330,297.4 331,297.8 332,298.2 333,298.5 334,298.9 335,299.2 336,299.6 337,299.9 338,300.3 339,300.6 340,301.0 341,301.3 342,301.7 343,302.0 344,302.4 345,302.7 346,303.1 347,303.4 348,303.7 349,304.1 350,304.4 351,304.8 352,305.1 353,305.4 354,305.8 355,306.1 356,306.4 357,306.7 358,307.1 359,307.4 360,307.7 361,308.0 362,308.3 363,308.7 364,309.0 365,309.3 366,309.6 367,309.9 368,310.2 369,310.5 370,310.9 371,311.2 372,311.5 373,311.8 374,312.1 375,312.4 376,312.7 377,313.0 378,313.3 379,313.6 380,313.9 381,314.2 382,314.5 383,314.8 384,315.1 385,315.4 386,315.7 387,315.9 388,316.2 389,316.5 390,316.8 391,317.1 392,317.4 393,317.6 394,317.9 395,318.2 396,318.5 397,318.7 398,319.0 399,319.3 400,319.5 401,319.8 402,320.1 403,320.3 404,320.6 405,320.8 406,321.1 407,321.3 408,321.5 409,321.8 410,322.0 411,322.3 412,322.5 413,322.7 414,323.0 415,323.2 416,323.5 417,323.7 418,323.9 419,324.2 420,324.4 421,324.6 422,324.9 423,325.1 424,325.4 425,325.6 426,325.8 427,326.1 428,326.3 429,326.6 430,326.8 431,327.1 432,327.3 433,327.6 434,327.8 435,328.1 436,328.4 437,328.6 438,328.9 439,329.2 440,329.4 441,329.7 442,330.0 443,330.3 444,330.6 445,330.9 446,331.2 447,331.5 448,331.8 449,332.1 450,332.4 451,332.7 452,333.0 453,333.3 454,333.6 455,333.9 456,334.2 457,334.5 458,334.9 459,335.2 460,335.5 461,335.8 462,336.2 463,336.5 464,336.8 465,337.1 466,337.5 467,337.8 468,338.1 469,338.4 470,338.8 471,339.1 472,339.4 473,339.8 474,340.1 475,340.4 476,340.8 477,341.1 478,341.4 479,341.8 480,342.1 481,342.4 482,342.8 483,343.1 484,343.4 485,343.8 486,344.1 487,344.5 488,344.8 489,345.2 490,345.5 491,345.9 492,346.2 493,346.6 494,346.9 495,347.3 496,347.6 497,348.0 498,348.3 499,348.7 500,349.0 501,349.4 502,349.7 503,350.1 504,350.4 505,350.8 506,351.1 507,351.5 508,351.8 509,352.2 510,352.6 511,352.9 512,353.3 513,353.6 514,354.0 515,354.3 516,354.7 517,355.0 518,355.4 519,355.7 520,356.1 521,356.4 522,356.8 523,357.1 524,357.5 525,357.8 526,358.2 527,358.5 528,358.9 529,359.3 530,359.6 531,360.0 532,360.3 533,360.7 534,361.0 535,361.4 536,361.7 537,362.1 538,362.4 539,362.8 540,363.1 541,363.5 542,363.8 543,364.2 544,364.5 545,364.9 546,365.3 547,365.6 548,366.0 549,366.3 550,366.7 551,367.0 552,367.3 553,367.7 554,368.0 555,368.4 556,368.7 557,369.1 558,369.4 559,369.8 560,370.1 561,370.5 562,370.8 563,371.1 564,371.5 565,371.8 566,372.2 567,372.5 568,372.9 569,373.2 570,373.6 571,373.9 572,374.2 573,374.6 574,374.9 575,375.3 576,375.6 577,375.9 578,376.3 579,376.6 580,377.0 581,377.3 582,377.6 583,378.0 584,378.3 585,378.6 586,378.9 587,379.3 588,379.6 589,379.9 590,380.2 591,380.6 592,380.9 593,381.2 594,381.5 595,381.8 596,382.1 597,382.4 598,382.7 599,383.0 600,383.3 601,383.6 602,383.9 603,384.2 604,384.5 605,384.8 606,385.1 607,385.4 608,385.7 609,386.0 610,386.3 611,386.6 612,386.9 613,387.2 614,387.5 615,387.7 616,388.0 617,388.3 618,388.6 619,388.9 620,389.2 621,389.6 622,389.9 623,390.2 624,390.5 625,390.8 626,391.1 627,391.4 628,391.7 629,392.1 630,392.4 631,392.7 632,393.1 633,393.4 634,393.7 635,394.1 636,394.4 637,394.7 638,395.1 639,395.4 640,395.8 641,396.1 642,396.5 643,396.8 644,397.2 645,397.5 646,397.9 647,398.2 648,398.6 649,398.9 650,399.3 651,399.6 652,400.0 653,400.4 654,400.7 655,401.1 656,401.4 657,401.8 658,402.1 659,402.5 660,402.9 661,403.2 662,403.6 663,403.9 664,404.3 665,404.6 666,405.0 667,405.3 668,405.7 669,406.0 670,406.4 671,406.7 672,407.1 673,407.5 674,407.8 675,408.2M708,419.5 709,419.7 710,420.0 711,420.2 712,420.5 713,420.7 714,421.0 715,421.2 716,421.5 717,421.7 718,421.9 719,422.2 720,422.4 721,422.6 722,422.8 723,423.1 724,423.3 725,423.5 726,423.7 727,423.9 728,424.1 729,424.3 730,424.5 731,424.7 732,424.9 733,425.1 734,425.3 735,425.4 736,425.6 737,425.8 738,426.0 739,426.1 740,426.3 741,426.4 742,426.6 743,426.7 744,426.9 745,427.1 746,427.4 747,427.6 748,427.8 749,428.0 750,428.2" stroke="#3d3a4c" stroke-width="1.6" stroke-dasharray="2.5 3.9"/>
<path d="M121,256.2 122,256.6 123,257.0 124,257.4 125,257.8 126,258.2 127,258.6 128,259.0 129,259.4 130,259.7 131,260.1 132,260.5 133,260.9 134,261.3 135,261.7 136,262.1 137,262.5 138,262.9 139,263.3 140,263.7 141,264.1 142,264.5 143,264.8 144,265.2 145,265.6 146,266.0 147,266.4 148,266.8 149,267.2 150,267.6 151,267.9 152,268.3 153,268.7 154,269.1 155,269.5 156,269.9 157,270.2 158,270.6 159,271.0 160,271.4 161,271.7 162,272.1 163,272.5 164,272.9 165,273.2 166,273.6 167,274.0 168,274.4 169,274.7 170,275.1 171,275.5 172,275.9 173,276.2 174,276.6 175,277.0 176,277.3 177,277.7 178,278.0 179,278.4 180,278.8 181,279.1 182,279.5 183,279.9 184,280.2 185,280.6 186,280.9 187,281.3 188,281.6 189,282.0 190,282.3 191,282.7 192,283.1 193,283.4 194,283.8 195,284.1 196,284.5 197,284.8 198,285.2 199,285.5 200,285.9 201,286.2 202,286.6 203,286.9 204,287.3 205,287.6 206,288.0 207,288.3 208,288.6 209,289.0 210,289.3 211,289.7 212,290.0 213,290.4 214,290.7 215,291.1 216,291.4 217,291.8 218,292.1 219,292.5 220,292.8 221,293.2 222,293.5 223,293.9 224,294.2 225,294.6 226,294.9 227,295.3 228,295.6 229,296.0 230,296.3 231,296.7 232,297.0 233,297.4 234,297.7 235,298.1 236,298.4 237,298.8 238,299.1 239,299.5 240,299.8 241,300.2 242,300.6 243,300.9 244,301.3 245,301.6 246,302.0 247,302.4 248,302.7 249,303.1 250,303.5 251,303.8 252,304.2 253,304.6 254,304.9 255,305.3 256,305.7 257,306.0 258,306.4 259,306.8 260,307.1 261,307.5 262,307.9 263,308.2 264,308.6 265,309.0 266,309.3 267,309.7 268,310.0 269,310.4 270,310.7 271,311.1 272,311.5 273,311.8 274,312.2 275,312.5 276,312.8 277,313.2 278,313.5 279,313.9 280,314.2 281,314.5 282,314.9 283,315.2 284,315.5 285,315.8 286,316.2 287,316.5 288,316.8 289,317.1 290,317.4 291,317.7 292,318.0 293,318.3 294,318.6 295,318.9 296,319.2 297,319.5 298,319.8 299,320.1 300,320.4 301,320.7 302,321.0 303,321.3 304,321.6 305,321.9 306,322.2 307,322.5 308,322.8 309,323.1 310,323.4 311,323.7 312,324.0 313,324.3 314,324.7 315,325.0 316,325.3 317,325.6 318,325.9 319,326.3 320,326.6 321,326.9 322,327.3 323,327.6 324,327.9 325,328.3 326,328.6 327,329.0 328,329.3 329,329.7 330,330.0 331,330.4 332,330.7 333,331.1 334,331.4 335,331.8 336,332.1 337,332.5 338,332.8 339,333.2 340,333.6 341,333.9 342,334.3 343,334.6 344,335.0 345,335.3 346,335.7 347,336.1 348,336.4 349,336.8 350,337.1 351,337.5 352,337.9 353,338.2 354,338.6 355,338.9 356,339.3 357,339.6 358,340.0 359,340.3 360,340.7 361,341.0 362,341.4 363,341.7 364,342.1 365,342.4 366,342.7 367,343.1 368,343.4 369,343.8 370,344.1 371,344.5 372,344.8 373,345.1 374,345.5 375,345.8 376,346.2 377,346.5 378,346.9 379,347.2 380,347.5 381,347.9 382,348.2 383,348.6 384,348.9 385,349.3 386,349.6 387,350.0 388,350.3 389,350.7 390,351.1 391,351.4 392,351.8 393,352.2 394,352.5 395,352.9 396,353.3 397,353.6 398,354.0 399,354.4 400,354.8 401,355.2 402,355.6 403,356.0 404,356.4 405,356.8 406,357.2 407,357.6 408,358.0 409,358.4 410,358.8 411,359.2 412,359.6 413,360.0 414,360.5 415,360.9 416,361.3 417,361.7 418,362.1 419,362.5 420,363.0 421,363.4 422,363.8 423,364.2 424,364.6 425,365.0 426,365.4 427,365.8 428,366.2 429,366.6 430,367.0 431,367.4 432,367.8 433,368.2 434,368.6 435,369.0 436,369.4 437,369.7 438,370.1 439,370.5 440,370.8 441,371.2 442,371.6 443,371.9 444,372.3 445,372.6 446,373.0 447,373.3 448,373.7 449,374.0 450,374.4 451,374.7 452,375.1 453,375.4 454,375.8 455,376.1 456,376.4 457,376.8 458,377.1 459,377.5 460,377.8 461,378.1 462,378.5 463,378.8 464,379.2 465,379.5 466,379.8 467,380.2 468,380.5 469,380.8 470,381.2 471,381.5 472,381.9 473,382.2 474,382.5 475,382.9 476,383.2 477,383.6 478,383.9 479,384.3 480,384.6 481,385.0 482,385.3 483,385.7 484,386.0 485,386.4 486,386.7 487,387.1 488,387.4 489,387.8 490,388.2 491,388.5 492,388.9 493,389.2 494,389.6 495,389.9 496,390.3 497,390.7 498,391.0 499,391.4 500,391.7 501,392.1 502,392.4 503,392.8 504,393.1 505,393.5 506,393.8 507,394.2 508,394.5 509,394.9 510,395.2 511,395.6 512,395.9 513,396.2 514,396.6 515,396.9 516,397.2 517,397.5 518,397.9 519,398.2 520,398.5 521,398.8 522,399.1 523,399.4 524,399.7 525,400.1 526,400.4 527,400.7 528,401.0 529,401.3 530,401.6 531,401.9 532,402.2 533,402.5 534,402.8 535,403.0 536,403.3 537,403.6 538,403.9 539,404.2 540,404.5 541,404.8 542,405.1 543,405.4 544,405.7 545,406.0 546,406.3 547,406.6 548,406.8 549,407.1 550,407.4 551,407.7 552,408.0 553,408.3 554,408.6 555,408.9 556,409.2 557,409.5 558,409.8 559,410.2 560,410.5 561,410.8 562,411.1 563,411.4 564,411.7 565,412.0 566,412.3 567,412.6 568,412.9 569,413.2 570,413.5 571,413.8 572,414.1 573,414.4 574,414.7 575,415.0 576,415.4 577,415.7 578,416.0 579,416.3 580,416.6 581,416.9 582,417.2 583,417.5 584,417.8 585,418.2 586,418.5 587,418.8 588,419.1 589,419.4 590,419.7 591,420.1 592,420.4 593,420.7 594,421.0 595,421.4 596,421.7 597,422.0 598,422.4 599,422.7 600,423.0 601,423.4 602,423.7 603,424.1 604,424.4 605,424.8 606,425.1 607,425.5 608,425.8 609,426.1 610,426.5 611,426.8 612,427.2 613,427.5 614,427.8 615,428.2 616,428.5 617,428.8 618,429.2 619,429.5 620,429.8 621,430.1 622,430.5 623,430.8 624,431.1 625,431.4 626,431.7 627,432.0 628,432.3 629,432.6 630,432.8 631,433.1 632,433.4 633,433.6 634,433.9 635,434.2 636,434.4 637,434.7 638,434.9 639,435.2 640,435.4 641,435.6 642,435.9 643,436.1 644,436.3 645,436.6 646,436.8 647,437.0 648,437.3 649,437.5 650,437.7 651,438.0 652,438.2 653,438.4 654,438.7 655,438.9 656,439.2 657,439.4 658,439.6 659,439.9 660,440.2 661,440.4 662,440.7 663,440.9 664,441.2 665,441.5 666,441.8 667,442.1 668,442.3 669,442.7 670,443.0 671,443.3 672,443.6 673,443.9 674,444.3 675,444.6 676,445.0 677,445.3 678,445.7 679,446.0 680,446.4 681,446.8 682,447.1 683,447.5 684,447.9 685,448.2 686,448.6 687,449.0 688,449.4 689,449.7 690,450.1 691,450.4 692,450.8 693,451.2 694,451.5 695,451.9 696,452.2 697,452.5 698,452.9" stroke="#3e3a48" stroke-width="3" stroke-dasharray="13.7 7.00 3.0 7.00" stroke-dashoffset="27.05"/>
<path d="M121,290.8 122,291.1 123,291.3 124,291.6 125,291.9 126,292.2 127,292.3 128,292.5 129,292.6 130,292.8 131,292.9 132,293.1 133,293.2 134,293.4 135,293.6 136,293.7 137,293.9 138,294.1 139,294.3 140,294.5 141,294.7 142,294.9 143,295.1 144,295.3 145,295.5 146,295.7 147,295.9 148,296.1 149,296.4 150,296.6 151,296.8 152,297.1 153,297.3 154,297.5 155,297.8 156,298.0 157,298.2 158,298.5 159,298.7 160,299.0 161,299.3 162,299.5 163,299.8 164,300.1 165,300.3 166,300.6 167,300.9 168,301.2 169,301.5 170,301.9 171,302.2 172,302.5 173,302.9 174,303.2 175,303.5 176,303.9 177,304.2 178,304.6 179,305.0 180,305.3 181,305.7 182,306.1 183,306.4 184,306.8 185,307.2 186,307.6 187,307.9 188,308.3 189,308.7 190,309.1 191,309.5 192,309.9 193,310.2 194,310.6 195,311.0 196,311.4 197,311.8 198,312.1 199,312.5 200,312.9 201,313.3 202,313.6 203,314.0 204,314.4 205,314.8 206,315.2 207,315.6 208,315.9 209,316.3 210,316.7 211,317.1 212,317.5 213,317.9 214,318.3 215,318.7 216,319.1 217,319.5 218,319.9 219,320.3 220,320.7 221,321.1 222,321.5 223,321.9 224,322.4 225,322.8 226,323.2 227,323.6 228,324.0 229,324.4 230,324.8 231,325.2 232,325.6 233,326.1 234,326.5 235,326.9 236,327.3 237,327.7 238,328.1 239,328.5 240,328.9 241,329.4 242,329.8 243,330.2 244,330.6 245,331.0 246,331.4 247,331.9 248,332.3 249,332.7 250,333.1 251,333.5 252,334.0 253,334.4 254,334.8 255,335.2 256,335.7 257,336.1 258,336.5 259,336.9 260,337.4 261,337.8 262,338.2 263,338.7 264,339.1 265,339.5 266,339.9 267,340.4 268,340.8 269,341.2 270,341.7 271,342.1 272,342.5 273,343.0 274,343.4 275,343.8 276,344.3 277,344.7 278,345.1 279,345.5 280,346.0 281,346.4 282,346.8 283,347.3 284,347.7 285,348.2 286,348.6 287,349.0 288,349.5 289,349.9 290,350.4 291,350.8 292,351.3 293,351.7 294,352.1 295,352.6 296,353.0 297,353.5 298,353.9 299,354.4 300,354.8 301,355.3 302,355.7 303,356.2 304,356.6 305,357.0 306,357.5 307,357.9 308,358.4 309,358.8 310,359.2 311,359.7 312,360.1 313,360.5 314,361.0 315,361.4 316,361.8 317,362.2 318,362.7 319,363.1 320,363.5 321,363.9 322,364.3 323,364.7 324,365.2 325,365.6 326,366.0 327,366.4 328,366.8 329,367.2 330,367.6 331,368.0 332,368.4 333,368.8 334,369.2 335,369.6 336,370.1 337,370.5 338,370.9 339,371.3 340,371.6 341,372.0 342,372.4 343,372.8 344,373.2 345,373.6 346,374.0 347,374.4 348,374.8 349,375.2 350,375.6 351,375.9 352,376.3 353,376.7 354,377.1 355,377.5 356,377.8 357,378.2 358,378.6 359,379.0 360,379.3 361,379.7 362,380.1 363,380.4 364,380.8 365,381.1 366,381.5 367,381.9 368,382.2 369,382.6 370,382.9 371,383.3 372,383.6 373,384.0 374,384.3 375,384.7 376,385.0 377,385.4 378,385.7 379,386.1 380,386.4 381,386.8 382,387.1 383,387.5 384,387.8 385,388.1 386,388.5 387,388.8 388,389.2 389,389.5 390,389.9 391,390.2 392,390.6 393,390.9 394,391.3 395,391.6 396,392.0 397,392.3 398,392.7 399,393.0 400,393.4 401,393.7 402,394.1 403,394.4 404,394.8 405,395.1 406,395.5 407,395.8 408,396.2 409,396.5 410,396.9 411,397.2 412,397.6 413,397.9 414,398.3 415,398.6 416,399.0 417,399.3 418,399.7 419,400.0 420,400.4 421,400.7 422,401.1 423,401.4 424,401.8 425,402.1 426,402.5 427,402.8 428,403.2 429,403.5 430,403.9 431,404.2 432,404.5 433,404.9 434,405.2 435,405.6 436,405.9 437,406.3 438,406.6 439,407.0 440,407.3 441,407.7 442,408.0 443,408.4 444,408.7 445,409.1 446,409.4 447,409.7 448,410.1 449,410.4 450,410.8 451,411.1 452,411.4 453,411.8 454,412.1 455,412.5M496,427.3 497,427.7 498,428.0 499,428.4 500,428.7 501,429.0 502,429.4 503,429.7 504,430.1 505,430.4 506,430.7 507,431.1 508,431.4 509,431.7 510,432.1 511,432.4 512,432.7 513,433.1 514,433.4 515,433.7 516,434.0 517,434.3 518,434.7 519,435.0 520,435.3 521,435.6 522,435.9 523,436.2 524,436.5 525,436.8 526,437.1 527,437.4 528,437.7 529,438.0 530,438.3 531,438.6 532,438.9 533,439.1 534,439.4 535,439.7 536,440.0 537,440.3 538,440.6 539,440.9 540,441.1 541,441.4 542,441.7 543,442.0 544,442.3 545,442.6 546,442.9 547,443.2 548,443.5 549,443.8 550,444.1 551,444.4 552,444.7 553,445.0 554,445.3 555,445.6 556,445.9 557,446.3 558,446.6 559,446.9 560,447.2 561,447.6 562,447.9 563,448.2 564,448.6 565,448.9 566,449.3 567,449.6 568,450.0 569,450.3 570,450.7 571,451.0 572,451.4 573,451.7 574,452.1 575,452.4 576,452.8 577,453.1 578,453.5 579,453.8 580,454.2 581,454.5 582,454.9 583,455.2 584,455.6 585,455.9 586,456.2 587,456.6 588,456.9 589,457.2 590,457.5 591,457.9 592,458.2 593,458.5 594,458.8 595,459.1 596,459.4 597,459.7 598,460.0 599,460.3 600,460.6 601,460.9 602,461.2 603,461.5 604,461.8 605,462.1 606,462.4 607,462.7 608,462.9 609,463.2 610,463.5 611,463.8 612,464.1 613,464.4 614,464.7 615,465.0 616,465.3 617,465.6 618,465.9 619,466.2 620,466.5 621,466.8 622,467.1 623,467.4 624,467.7 625,468.0 626,468.3 627,468.6 628,468.9 629,469.3 630,469.6 631,469.9 632,470.3 633,470.6 634,470.9 635,471.3 636,471.6 637,471.9 638,472.3 639,472.6 640,473.0 641,473.3 642,473.7 643,474.0 644,474.4 645,474.7 646,475.1 647,475.5 648,475.8 649,476.2 650,476.5 651,476.9 652,477.3 653,477.6 654,478.0 655,478.3 656,478.7 657,479.1 658,479.4 659,479.8 660,480.1 661,480.5 662,480.9 663,481.2 664,481.6 665,481.9 666,482.3 667,482.6 668,483.0 669,483.3 670,483.7 671,484.0 672,484.4 673,484.7 674,485.1 675,485.4 676,485.8 677,486.1 678,486.5 679,486.8 680,487.1 681,487.5 682,487.8 683,488.2 684,488.5 685,488.9 686,489.2 687,489.6 688,489.9 689,490.3 690,490.6 691,490.9 692,491.3 693,491.6 694,492.0 695,492.3 696,492.7 697,493.0 698,493.4 699,493.7 700,494.1 701,494.5 702,494.8 703,495.2 704,495.5 705,495.9 706,496.2 707,496.6 708,496.9 709,497.3 710,497.7 711,498.0 712,498.4 713,498.7 714,499.1 715,499.5 716,499.8 717,500.2 718,500.6 719,500.9 720,501.3 721,501.7 722,502.0 723,502.4 724,502.8 725,503.1 726,503.5 727,503.9 728,504.2 729,504.6 730,505.0 731,505.3 732,505.7 733,506.1 734,506.5 735,506.8 736,507.2 737,507.6 738,508.0 739,508.3 740,508.7 741,509.1 742,509.5 743,509.8 744,510.2 745,510.6 746,510.9 747,511.3 748,511.7 749,512.0 750,512.4" stroke="#3d3a4c" stroke-width="1.6" stroke-dasharray="2.5 3.9"/>
<path d="M121,347.9 122,348.2 123,348.5 124,348.8 125,349.1 126,349.4 127,349.6 128,349.7 129,349.9 130,350.1 131,350.3 132,350.4 133,350.6 134,350.8 135,351.0 136,351.2 137,351.4 138,351.6 139,351.9 140,352.1 141,352.3 142,352.5 143,352.7 144,353.0 145,353.2 146,353.4 147,353.7 148,353.9 149,354.1 150,354.4 151,354.6 152,354.9 153,355.1 154,355.4 155,355.7 156,355.9 157,356.2 158,356.4 159,356.7 160,357.0 161,357.3 162,357.5 163,357.8 164,358.1 165,358.4 166,358.7 167,359.0 168,359.3 169,359.6 170,359.9 171,360.2 172,360.6 173,360.9 174,361.2 175,361.6 176,361.9 177,362.3 178,362.6 179,363.0 180,363.3 181,363.7 182,364.0 183,364.4 184,364.8 185,365.1 186,365.5 187,365.9 188,366.3 189,366.6 190,367.0 191,367.4 192,367.8 193,368.2 194,368.6 195,368.9 196,369.3 197,369.7 198,370.1 199,370.5 200,370.9 201,371.3 202,371.7 203,372.1 204,372.5 205,372.9 206,373.3 207,373.7 208,374.2 209,374.6 210,375.0 211,375.5 212,375.9 213,376.3 214,376.8 215,377.2 216,377.6 217,378.1 218,378.5 219,379.0 220,379.5 221,379.9 222,380.4 223,380.8 224,381.3 225,381.8 226,382.2 227,382.7 228,383.2 229,383.7 230,384.1 231,384.6 232,385.1 233,385.6 234,386.1 235,386.5 236,387.0 237,387.5 238,388.0 239,388.5 240,389.0 241,389.5 242,390.0 243,390.5 244,391.1 245,391.6 246,392.1 247,392.7 248,393.2 249,393.8 250,394.3 251,394.9 252,395.5 253,396.0 254,396.6 255,397.2 256,397.7 257,398.3 258,398.9 259,399.4 260,400.0 261,400.6 262,401.1 263,401.7 264,402.3 265,402.8 266,403.4 267,404.0 268,404.5 269,405.1 270,405.6 271,406.2 272,406.7 273,407.2 274,407.7 275,408.3 276,408.8 277,409.3 278,409.8 279,410.3 280,410.7 281,411.2 282,411.7 283,412.1 284,412.6 285,413.0 286,413.5 287,413.9 288,414.4 289,414.8 290,415.2 291,415.7 292,416.1 293,416.5 294,416.9 295,417.3 296,417.7 297,418.2 298,418.6 299,419.0 300,419.4 301,419.8 302,420.2 303,420.6 304,421.0 305,421.4 306,421.8 307,422.1 308,422.5 309,422.9 310,423.3 311,423.7 312,424.1 313,424.5 314,424.9 315,425.2 316,425.6 317,426.0 318,426.4 319,426.8 320,427.2 321,427.5 322,427.9 323,428.3 324,428.7 325,429.0 326,429.4 327,429.7 328,430.1 329,430.5 330,430.8 331,431.2 332,431.5 333,431.9 334,432.2 335,432.6 336,432.9 337,433.3 338,433.6 339,434.0 340,434.3 341,434.6 342,435.0 343,435.3 344,435.7 345,436.0 346,436.4 347,436.7 348,437.1 349,437.4 350,437.8 351,438.1 352,438.5 353,438.8 354,439.2 355,439.5 356,439.9 357,440.2 358,440.6 359,441.0 360,441.3 361,441.7 362,442.1 363,442.5 364,442.9 365,443.2 366,443.6 367,444.0M421,465.3 422,465.7 423,466.1 424,466.5 425,467.0 426,467.4 427,467.9 428,468.4 429,468.8 430,469.3 431,469.8 432,470.3 433,470.7 434,471.2 435,471.7 436,472.1 437,472.6 438,473.1 439,473.5 440,473.9 441,474.3 442,474.7 443,475.2 444,475.6 445,476.0 446,476.4 447,476.7 448,477.1 449,477.5 450,477.9 451,478.3 452,478.7 453,479.0 454,479.4 455,479.8 456,480.2 457,480.5 458,480.9 459,481.3 460,481.6 461,482.0 462,482.4 463,482.7 464,483.1 465,483.5 466,483.8 467,484.2 468,484.5 469,484.9 470,485.3 471,485.7 472,486.0 473,486.4 474,486.8 475,487.1 476,487.5 477,487.9 478,488.3 479,488.7 480,489.1 481,489.5 482,489.8 483,490.2 484,490.6 485,491.0 486,491.4 487,491.8 488,492.2 489,492.6 490,493.0 491,493.4 492,493.8 493,494.2 494,494.6 495,494.9 496,495.3 497,495.7 498,496.1 499,496.5 500,496.9 501,497.3 502,497.7 503,498.1 504,498.5 505,498.9 506,499.3 507,499.7 508,500.1 509,500.5 510,501.0 511,501.4 512,501.8 513,502.2 514,502.6 515,503.0 516,503.4 517,503.8 518,504.2 519,504.6 520,505.0 521,505.4 522,505.8 523,506.3 524,506.7 525,507.1 526,507.5 527,507.9 528,508.3 529,508.8 530,509.2 531,509.6 532,510.0 533,510.4 534,510.9 535,511.3 536,511.7 537,512.1 538,512.6 539,513.0 540,513.4 541,513.8 542,514.1 543,514.4 544,514.7 545,514.9 546,515.2 547,515.5 548,515.8 549,516.1 550,516.4 551,516.7 552,517.0 553,517.3 554,517.7 555,518.0 556,518.3 557,518.6 558,518.9 559,519.2 560,519.6 561,519.9 562,520.2 563,520.6 564,520.9" stroke="#3d3a4c" stroke-width="1.6" stroke-dasharray="2.5 3.9"/>
<path d="M121,401.6 122,402.0 123,402.4 124,402.7 125,403.1 126,403.5 127,403.7 128,403.9 129,404.1 130,404.3 131,404.5 132,404.8 133,405.0 134,405.2 135,405.5 136,405.7 137,406.0 138,406.2 139,406.5 140,406.8 141,407.0 142,407.3 143,407.6 144,407.9 145,408.2 146,408.5 147,408.8 148,409.1 149,409.4 150,409.7 151,410.0 152,410.3 153,410.6 154,410.9 155,411.3 156,411.6 157,411.9 158,412.2 159,412.6 160,412.9 161,413.3 162,413.6 163,414.0 164,414.3 165,414.7 166,415.1 167,415.5 168,415.9 169,416.3 170,416.7 171,417.2 172,417.6 173,418.0 174,418.5 175,418.9 176,419.4 177,419.8 178,420.3 179,420.8 180,421.2 181,421.7 182,422.2 183,422.7 184,423.1 185,423.6 186,424.1 187,424.6 188,425.1 189,425.6 190,426.0 191,426.5 192,427.0 193,427.5 194,428.0 195,428.5 196,428.9 197,429.4 198,429.9 199,430.4 200,430.8 201,431.3 202,431.8 203,432.3M255,456.3 256,456.8 257,457.3 258,457.7 259,458.2 260,458.7 261,459.2 262,459.6 263,460.1 264,460.6 265,461.1 266,461.6 267,462.1 268,462.5 269,463.0 270,463.5 271,464.0 272,464.5 273,464.9 274,465.4 275,465.9 276,466.4 277,466.8 278,467.3 279,467.7 280,468.2 281,468.7 282,469.1 283,469.6 284,470.0 285,470.4 286,470.9 287,471.3 288,471.8 289,472.2 290,472.6 291,473.1 292,473.5 293,473.9 294,474.4 295,474.8 296,475.2 297,475.6 298,476.1 299,476.5 300,476.9 301,477.3 302,477.7 303,478.2 304,478.6 305,479.0 306,479.4 307,479.8 308,480.2 309,480.7 310,481.1 311,481.5 312,481.9 313,482.3 314,482.7 315,483.1 316,483.5 317,484.0 318,484.4 319,484.8 320,485.2 321,485.6 322,486.0 323,486.4 324,486.8 325,487.2 326,487.6 327,488.0 328,488.4 329,488.8 330,489.2 331,489.6 332,490.0 333,490.4 334,490.8 335,491.2 336,491.6 337,492.0 338,492.4 339,492.8 340,493.2 341,493.6 342,494.0 343,494.4 344,494.8 345,495.1 346,495.5 347,495.9 348,496.3 349,496.7 350,497.1 351,497.5 352,498.0 353,498.4 354,498.8 355,499.2 356,499.6 357,500.0 358,500.4 359,500.8 360,501.2 361,501.7 362,502.1 363,502.5 364,502.9 365,503.3 366,503.8 367,504.2 368,504.6 369,505.0 370,505.4 371,505.9 372,506.3 373,506.7 374,507.2 375,507.6 376,508.0 377,508.4 378,508.9 379,509.3 380,509.7 381,510.2 382,510.6 383,511.0 384,511.5 385,511.9 386,512.4 387,512.8 388,513.2 389,513.7 390,514.1 391,514.5 392,514.9 393,515.3 394,515.7 395,516.1 396,516.5 397,516.9 398,517.3 399,517.6 400,518.0 401,518.3 402,518.7 403,519.0 404,519.4 405,519.7 406,520.0 407,520.4 408,520.7" stroke="#3d3a4c" stroke-width="1.6" stroke-dasharray="2.5 3.9"/>
<path d="M165,462.6 166,463.1 167,463.6 168,464.1 169,464.6 170,465.1 171,465.6 172,466.1 173,466.7 174,467.2 175,467.7 176,468.2 177,468.8 178,469.3 179,469.8 180,470.4 181,470.9 182,471.5 183,472.0 184,472.5 185,473.1 186,473.6 187,474.2 188,474.7 189,475.2 190,475.8 191,476.3 192,476.9 193,477.4 194,477.9 195,478.5 196,479.0 197,479.5 198,480.0 199,480.5 200,481.1 201,481.6 202,482.1 203,482.6 204,483.1 205,483.6 206,484.1 207,484.6 208,485.2 209,485.7 210,486.2 211,486.7 212,487.2 213,487.7 214,488.2 215,488.7 216,489.2 217,489.7 218,490.2 219,490.7 220,491.2 221,491.7 222,492.3 223,492.8 224,493.3 225,493.8 226,494.3 227,494.8 228,495.3 229,495.8 230,496.3 231,496.8 232,497.3 233,497.8 234,498.3 235,498.8 236,499.3 237,499.7 238,500.2 239,500.7 240,501.2 241,501.7 242,502.2 243,502.7 244,503.2 245,503.7 246,504.2 247,504.7 248,505.2 249,505.7 250,506.1 251,506.6 252,507.1 253,507.6 254,508.1 255,508.5 256,509.0 257,509.5 258,509.9 259,510.4 260,510.9 261,511.4 262,511.8 263,512.3 264,512.8 265,513.3 266,513.8 267,514.3 268,514.7 269,515.2 270,515.7 271,516.2 272,516.7 273,517.1 274,517.6 275,518.1 276,518.6 277,519.0 278,519.5 279,519.9 280,520.4 281,520.9" stroke="#3d3a4c" stroke-width="1.6" stroke-dasharray="2.5 3.9"/>
<path d="M121,484.5 122,485.0 123,485.5M177,511.2 178,511.7 179,512.3 180,512.8 181,513.3 182,513.9 183,514.4 184,514.9 185,515.5 186,516.0 187,516.6 188,517.1 189,517.7 190,518.2 191,518.7 192,519.3 193,519.8 194,520.3 195,520.9" stroke="#3d3a4c" stroke-width="1.6" stroke-dasharray="2.5 3.9"/>
</g>
<g clip-path="url(#cpL)" style="font-family:'Liberation Sans',Arial,sans-serif">
<text x="690.2" y="60.2" font-size="23.7" text-anchor="middle" fill="rgb(44, 58, 67)" style="stroke:rgb(44, 58, 67)">31.9</text>
<text x="690.7" y="208.4" font-size="23.7" text-anchor="middle" fill="rgb(44, 49, 67)" style="stroke:rgb(44, 49, 67)">22.8</text>
<text x="691.6" y="322.9" font-size="23.7" text-anchor="middle" fill="rgb(49, 44, 67)" style="stroke:rgb(49, 44, 67)">13.7</text>
<text x="691.7" y="419.5" font-size="23.7" text-anchor="middle" fill="rgb(58, 44, 67)" style="stroke:rgb(58, 44, 67)">4.6</text>
<text x="721.0" y="472.8" font-size="23.7" text-anchor="middle" fill="rgb(63, 44, 67)" style="stroke:rgb(63, 44, 67)">0.0</text>
<text x="475.2" y="428.2" font-size="23.7" text-anchor="middle" fill="rgb(67, 44, 67)" style="stroke:rgb(67, 44, 67)">-4.5</text>
<text x="393.7" y="465.8" font-size="23.7" text-anchor="middle" fill="rgb(67, 44, 58)" style="stroke:rgb(67, 44, 58)">-13.6</text>
<text x="227.6" y="455.1" font-size="23.7" text-anchor="middle" fill="rgb(67, 44, 49)" style="stroke:rgb(67, 44, 49)">-22.7</text>
<text x="137.5" y="459.6" font-size="23.7" text-anchor="middle" fill="rgb(67, 49, 44)" style="stroke:rgb(67, 49, 44)">-31.8</text>
<text x="149.6" y="507.0" font-size="22.4" text-anchor="middle" fill="rgb(67, 58, 44)" style="stroke:rgb(67, 58, 44)">-40.9</text>
</g>
<g clip-path="url(#cpL)">
<polyline points="124.8,367.2 151.8,349.4 178.7,332.9 205.7,317.1 232.6,300.8 259.6,284.6 286.5,268.1 313.5,252.0 340.4,236.0 367.4,219.9 394.3,203.8 421.3,187.6 448.2,171.7 475.2,155.5 502.1,139.3 529.1,122.9 556.0,106.7 583.0,90.3 609.9,74.2 636.9,58.1 663.8,42.5" fill="none" stroke="#8c8c8c" stroke-width="0.8"/>
<path d="M124.8,357.0 127.1,364.0 134.5,364.0 128.5,368.4 130.8,375.5 124.8,371.1 118.8,375.5 121.1,368.4 115.1,364.0 122.5,364.0ZM151.8,339.2 154.0,346.2 161.5,346.2 155.5,350.6 157.7,357.7 151.8,353.3 145.8,357.7 148.0,350.6 142.1,346.2 149.5,346.2ZM178.7,322.7 181.0,329.7 188.4,329.7 182.4,334.1 184.7,341.2 178.7,336.8 172.7,341.2 175.0,334.1 169.0,329.7 176.4,329.7ZM205.7,306.9 207.9,313.9 215.4,313.9 209.4,318.3 211.7,325.4 205.7,321.0 199.7,325.4 202.0,318.3 196.0,313.9 203.4,313.9ZM232.6,290.6 234.9,297.6 242.3,297.6 236.3,302.0 238.6,309.1 232.6,304.7 226.6,309.1 228.9,302.0 222.9,297.6 230.3,297.6ZM259.6,274.4 261.9,281.4 269.3,281.4 263.3,285.8 265.6,292.9 259.6,288.5 253.6,292.9 255.9,285.8 249.9,281.4 257.3,281.4ZM286.5,257.9 288.8,264.9 296.2,264.9 290.2,269.3 292.5,276.4 286.5,272.0 280.5,276.4 282.8,269.3 276.8,264.9 284.2,264.9ZM313.5,241.8 315.8,248.8 323.2,248.8 317.2,253.2 319.5,260.3 313.5,255.9 307.5,260.3 309.8,253.2 303.8,248.8 311.2,248.8ZM340.4,225.8 342.7,232.8 350.1,232.8 344.1,237.2 346.4,244.3 340.4,239.9 334.4,244.3 336.7,237.2 330.7,232.8 338.1,232.8ZM367.4,209.7 369.7,216.7 377.1,216.7 371.1,221.1 373.4,228.2 367.4,223.8 361.4,228.2 363.7,221.1 357.7,216.7 365.1,216.7ZM394.3,193.6 396.6,200.6 404.0,200.6 398.0,205.0 400.3,212.1 394.3,207.7 388.3,212.1 390.6,205.0 384.6,200.6 392.0,200.6ZM421.3,177.4 423.6,184.4 431.0,184.4 425.0,188.8 427.3,195.9 421.3,191.5 415.3,195.9 417.6,188.8 411.6,184.4 419.0,184.4ZM448.2,161.5 450.5,168.5 457.9,168.5 451.9,172.9 454.2,180.0 448.2,175.6 442.2,180.0 444.5,172.9 438.5,168.5 445.9,168.5ZM475.2,145.3 477.5,152.3 484.9,152.3 478.9,156.7 481.2,163.8 475.2,159.4 469.2,163.8 471.5,156.7 465.5,152.3 472.9,152.3ZM502.1,129.1 504.4,136.1 511.8,136.1 505.8,140.5 508.1,147.6 502.1,143.2 496.1,147.6 498.4,140.5 492.4,136.1 499.8,136.1ZM529.1,112.7 531.4,119.7 538.8,119.7 532.8,124.1 535.1,131.2 529.1,126.8 523.1,131.2 525.4,124.1 519.4,119.7 526.8,119.7ZM556.0,96.5 558.3,103.5 565.7,103.5 559.7,107.9 562.0,115.0 556.0,110.6 550.0,115.0 552.3,107.9 546.3,103.5 553.7,103.5ZM583.0,80.1 585.3,87.1 592.7,87.1 586.7,91.5 589.0,98.6 583.0,94.2 577.0,98.6 579.3,91.5 573.3,87.1 580.7,87.1ZM609.9,64.0 612.2,71.0 619.6,71.0 613.6,75.4 615.9,82.5 609.9,78.1 603.9,82.5 606.2,75.4 600.2,71.0 607.6,71.0ZM636.9,47.9 639.2,54.9 646.6,54.9 640.6,59.3 642.9,66.4 636.9,62.0 630.9,66.4 633.2,59.3 627.2,54.9 634.6,54.9ZM663.8,32.3 666.1,39.3 673.5,39.3 667.5,43.7 669.8,50.8 663.8,46.4 657.8,50.8 660.1,43.7 654.1,39.3 661.6,39.3Z" fill="none" stroke="#858585" stroke-width="1.65"/>
<path d="M742.8,463.8 L737.5,468.2 L742.8,474.4" fill="none" stroke="#3e3a48" stroke-width="2.5"/>
</g>
<g stroke="#000" stroke-width="2.7" fill="none">
<rect x="124.8" y="37.2" width="619.9000000000001" height="478.8" stroke-linejoin="miter"/>
<path d="M151.8,515.4 v-12.200000000000001 M151.8,37.800000000000004 v12.200000000000001 M205.7,515.4 v-6.0 M205.7,37.800000000000004 v6.0 M259.6,515.4 v-12.200000000000001 M259.6,37.800000000000004 v12.200000000000001 M313.5,515.4 v-6.0 M313.5,37.800000000000004 v6.0 M367.4,515.4 v-12.200000000000001 M367.4,37.800000000000004 v12.200000000000001 M421.3,515.4 v-6.0 M421.3,37.800000000000004 v6.0 M475.2,515.4 v-12.200000000000001 M475.2,37.800000000000004 v12.200000000000001 M529.1,515.4 v-6.0 M529.1,37.800000000000004 v6.0 M583.0,515.4 v-12.200000000000001 M583.0,37.800000000000004 v12.200000000000001 M636.9,515.4 v-6.0 M636.9,37.800000000000004 v6.0 M690.8,515.4 v-12.200000000000001 M690.8,37.800000000000004 v12.200000000000001 M125.39999999999999,456.2 h6.4 M744.1,456.2 h-6.4 M125.39999999999999,396.3 h12.9 M744.1,396.3 h-12.9 M125.39999999999999,336.5 h6.4 M744.1,336.5 h-6.4 M125.39999999999999,276.6 h12.9 M744.1,276.6 h-12.9 M125.39999999999999,216.8 h6.4 M744.1,216.8 h-6.4 M125.39999999999999,156.9 h12.9 M744.1,156.9 h-12.9 M125.39999999999999,97.1 h6.4 M744.1,97.1 h-6.4" stroke-linecap="round"/>
</g>
<g style="font-family:'Liberation Sans',Arial,sans-serif" font-size="30" fill="#000">
<text transform="translate(109.5,523.8) scale(1,1.035)" font-size="30" text-anchor="end">2.62</text>
<text transform="translate(109.5,404.1) scale(1,1.035)" font-size="30" text-anchor="end">2.64</text>
<text transform="translate(109.5,284.4) scale(1,1.035)" font-size="30" text-anchor="end">2.66</text>
<text transform="translate(109.5,164.7) scale(1,1.035)" font-size="30" text-anchor="end">2.68</text>
<text transform="translate(109.5,45.0) scale(1,1.035)" font-size="30" text-anchor="end">2.70</text>
<text transform="translate(151.8,554.5) scale(1,1.035)" font-size="30" text-anchor="middle">100</text>
<text transform="translate(259.6,554.5) scale(1,1.035)" font-size="30" text-anchor="middle">300</text>
<text transform="translate(367.4,554.5) scale(1,1.035)" font-size="30" text-anchor="middle">500</text>
<text transform="translate(475.2,554.5) scale(1,1.035)" font-size="30" text-anchor="middle">700</text>
<text transform="translate(583.0,554.5) scale(1,1.035)" font-size="30" text-anchor="middle">900</text>
<text transform="translate(690.8,554.5) scale(1,1.035)" font-size="30" text-anchor="middle">1100</text>
</g>
<text x="436" y="612.3" style="font-family:'Liberation Sans',Arial,sans-serif" font-size="36.7" text-anchor="middle"><tspan font-style="italic">T</tspan> (K)</text>
<text transform="translate(27,301) rotate(-90)" style="font-family:'Liberation Sans',Arial,sans-serif" font-size="36.7" text-anchor="middle"><tspan style="font-family:'Liberation Serif',serif;font-style:italic">w</tspan> (Bohr)</text>
<text x="124" y="22.3" style="font-family:'Liberation Sans',Arial,sans-serif" font-size="31" font-weight="bold">(a)</text>
<rect x="759.0" y="85.80" width="45.2" height="4.57" fill="rgb(255,5,0)"/>
<rect x="759.0" y="89.77" width="45.2" height="4.57" fill="rgb(255,15,0)"/>
<rect x="759.0" y="93.74" width="45.2" height="4.57" fill="rgb(255,26,0)"/>
<rect x="759.0" y="97.71" width="45.2" height="4.57" fill="rgb(255,36,0)"/>
<rect x="759.0" y="101.68" width="45.2" height="4.57" fill="rgb(255,46,0)"/>
<rect x="759.0" y="105.64" width="45.2" height="4.57" fill="rgb(255,56,0)"/>
<rect x="759.0" y="109.61" width="45.2" height="4.57" fill="rgb(255,66,0)"/>
<rect x="759.0" y="113.58" width="45.2" height="4.57" fill="rgb(255,76,0)"/>
<rect x="759.0" y="117.55" width="45.2" height="4.57" fill="rgb(255,87,0)"/>
<rect x="759.0" y="121.52" width="45.2" height="4.57" fill="rgb(255,97,0)"/>
<rect x="759.0" y="125.49" width="45.2" height="4.57" fill="rgb(255,107,0)"/>
<rect x="759.0" y="129.46" width="45.2" height="4.57" fill="rgb(255,117,0)"/>
<rect x="759.0" y="133.43" width="45.2" height="4.57" fill="rgb(255,128,0)"/>
<rect x="759.0" y="137.40" width="45.2" height="4.57" fill="rgb(255,138,0)"/>
<rect x="759.0" y="141.37" width="45.2" height="4.57" fill="rgb(255,148,0)"/>
<rect x="759.0" y="145.33" width="45.2" height="4.57" fill="rgb(255,158,0)"/>
<rect x="759.0" y="149.30" width="45.2" height="4.57" fill="rgb(255,168,0)"/>
<rect x="759.0" y="153.27" width="45.2" height="4.57" fill="rgb(255,178,0)"/>
<rect x="759.0" y="157.24" width="45.2" height="4.57" fill="rgb(255,189,0)"/>
<rect x="759.0" y="161.21" width="45.2" height="4.57" fill="rgb(255,199,0)"/>
<rect x="759.0" y="165.18" width="45.2" height="4.57" fill="rgb(255,209,0)"/>
<rect x="759.0" y="169.15" width="45.2" height="4.57" fill="rgb(255,219,0)"/>
<rect x="759.0" y="173.12" width="45.2" height="4.57" fill="rgb(255,229,0)"/>
<rect x="759.0" y="177.09" width="45.2" height="4.57" fill="rgb(255,240,0)"/>
<rect x="759.0" y="181.06" width="45.2" height="4.57" fill="rgb(255,250,0)"/>
<rect x="759.0" y="185.02" width="45.2" height="4.57" fill="rgb(250,255,0)"/>
<rect x="759.0" y="188.99" width="45.2" height="4.57" fill="rgb(240,255,0)"/>
<rect x="759.0" y="192.96" width="45.2" height="4.57" fill="rgb(230,255,0)"/>
<rect x="759.0" y="196.93" width="45.2" height="4.57" fill="rgb(219,255,0)"/>
<rect x="759.0" y="200.90" width="45.2" height="4.57" fill="rgb(209,255,0)"/>
<rect x="759.0" y="204.87" width="45.2" height="4.57" fill="rgb(199,255,0)"/>
<rect x="759.0" y="208.84" width="45.2" height="4.57" fill="rgb(189,255,0)"/>
<rect x="759.0" y="212.81" width="45.2" height="4.57" fill="rgb(178,255,0)"/>
<rect x="759.0" y="216.78" width="45.2" height="4.57" fill="rgb(168,255,0)"/>
<rect x="759.0" y="220.75" width="45.2" height="4.57" fill="rgb(158,255,0)"/>
<rect x="759.0" y="224.71" width="45.2" height="4.57" fill="rgb(148,255,0)"/>
<rect x="759.0" y="228.68" width="45.2" height="4.57" fill="rgb(138,255,0)"/>
<rect x="759.0" y="232.65" width="45.2" height="4.57" fill="rgb(127,255,0)"/>
<rect x="759.0" y="236.62" width="45.2" height="4.57" fill="rgb(117,255,0)"/>
<rect x="759.0" y="240.59" width="45.2" height="4.57" fill="rgb(107,255,0)"/>
<rect x="759.0" y="244.56" width="45.2" height="4.57" fill="rgb(97,255,0)"/>
<rect x="759.0" y="248.53" width="45.2" height="4.57" fill="rgb(87,255,0)"/>
<rect x="759.0" y="252.50" width="45.2" height="4.57" fill="rgb(77,255,0)"/>
<rect x="759.0" y="256.47" width="45.2" height="4.57" fill="rgb(66,255,0)"/>
<rect x="759.0" y="260.44" width="45.2" height="4.57" fill="rgb(56,255,0)"/>
<rect x="759.0" y="264.40" width="45.2" height="4.57" fill="rgb(46,255,0)"/>
<rect x="759.0" y="268.37" width="45.2" height="4.57" fill="rgb(36,255,0)"/>
<rect x="759.0" y="272.34" width="45.2" height="4.57" fill="rgb(25,255,0)"/>
<rect x="759.0" y="276.31" width="45.2" height="4.57" fill="rgb(15,255,0)"/>
<rect x="759.0" y="280.28" width="45.2" height="4.57" fill="rgb(5,255,0)"/>
<rect x="759.0" y="284.25" width="45.2" height="4.57" fill="rgb(0,255,5)"/>
<rect x="759.0" y="288.22" width="45.2" height="4.57" fill="rgb(0,255,15)"/>
<rect x="759.0" y="292.19" width="45.2" height="4.57" fill="rgb(0,255,26)"/>
<rect x="759.0" y="296.16" width="45.2" height="4.57" fill="rgb(0,255,36)"/>
<rect x="759.0" y="300.13" width="45.2" height="4.57" fill="rgb(0,255,46)"/>
<rect x="759.0" y="304.09" width="45.2" height="4.57" fill="rgb(0,255,56)"/>
<rect x="759.0" y="308.06" width="45.2" height="4.57" fill="rgb(0,255,66)"/>
<rect x="759.0" y="312.03" width="45.2" height="4.57" fill="rgb(0,255,77)"/>
<rect x="759.0" y="316.00" width="45.2" height="4.57" fill="rgb(0,255,87)"/>
<rect x="759.0" y="319.97" width="45.2" height="4.57" fill="rgb(0,255,97)"/>
<rect x="759.0" y="323.94" width="45.2" height="4.57" fill="rgb(0,255,107)"/>
<rect x="759.0" y="327.91" width="45.2" height="4.57" fill="rgb(0,255,117)"/>
<rect x="759.0" y="331.88" width="45.2" height="4.57" fill="rgb(0,255,128)"/>
<rect x="759.0" y="335.85" width="45.2" height="4.57" fill="rgb(0,255,138)"/>
<rect x="759.0" y="339.82" width="45.2" height="4.57" fill="rgb(0,255,148)"/>
<rect x="759.0" y="343.79" width="45.2" height="4.57" fill="rgb(0,255,158)"/>
<rect x="759.0" y="347.75" width="45.2" height="4.57" fill="rgb(0,255,168)"/>
<rect x="759.0" y="351.72" width="45.2" height="4.57" fill="rgb(0,255,178)"/>
<rect x="759.0" y="355.69" width="45.2" height="4.57" fill="rgb(0,255,189)"/>
<rect x="759.0" y="359.66" width="45.2" height="4.57" fill="rgb(0,255,199)"/>
<rect x="759.0" y="363.63" width="45.2" height="4.57" fill="rgb(0,255,209)"/>
<rect x="759.0" y="367.60" width="45.2" height="4.57" fill="rgb(0,255,219)"/>
<rect x="759.0" y="371.57" width="45.2" height="4.57" fill="rgb(0,255,229)"/>
<rect x="759.0" y="375.54" width="45.2" height="4.57" fill="rgb(0,255,240)"/>
<rect x="759.0" y="379.51" width="45.2" height="4.57" fill="rgb(0,255,250)"/>
<rect x="759.0" y="383.48" width="45.2" height="4.57" fill="rgb(0,250,255)"/>
<rect x="759.0" y="387.44" width="45.2" height="4.57" fill="rgb(0,240,255)"/>
<rect x="759.0" y="391.41" width="45.2" height="4.57" fill="rgb(0,229,255)"/>
<rect x="759.0" y="395.38" width="45.2" height="4.57" fill="rgb(0,219,255)"/>
<rect x="759.0" y="399.35" width="45.2" height="4.57" fill="rgb(0,209,255)"/>
<rect x="759.0" y="403.32" width="45.2" height="4.57" fill="rgb(0,199,255)"/>
<rect x="759.0" y="407.29" width="45.2" height="4.57" fill="rgb(0,189,255)"/>
<rect x="759.0" y="411.26" width="45.2" height="4.57" fill="rgb(0,178,255)"/>
<rect x="759.0" y="415.23" width="45.2" height="4.57" fill="rgb(0,168,255)"/>
<rect x="759.0" y="419.20" width="45.2" height="4.57" fill="rgb(0,158,255)"/>
<rect x="759.0" y="423.17" width="45.2" height="4.57" fill="rgb(0,148,255)"/>
<rect x="759.0" y="427.13" width="45.2" height="4.57" fill="rgb(0,138,255)"/>
<rect x="759.0" y="431.10" width="45.2" height="4.57" fill="rgb(0,128,255)"/>
<rect x="759.0" y="435.07" width="45.2" height="4.57" fill="rgb(0,117,255)"/>
<rect x="759.0" y="439.04" width="45.2" height="4.57" fill="rgb(0,107,255)"/>
<rect x="759.0" y="443.01" width="45.2" height="4.57" fill="rgb(0,97,255)"/>
<rect x="759.0" y="446.98" width="45.2" height="4.57" fill="rgb(0,87,255)"/>
<rect x="759.0" y="450.95" width="45.2" height="4.57" fill="rgb(0,77,255)"/>
<rect x="759.0" y="454.92" width="45.2" height="4.57" fill="rgb(0,66,255)"/>
<rect x="759.0" y="458.89" width="45.2" height="4.57" fill="rgb(0,56,255)"/>
<rect x="759.0" y="462.86" width="45.2" height="4.57" fill="rgb(0,46,255)"/>
<rect x="759.0" y="466.82" width="45.2" height="4.57" fill="rgb(0,36,255)"/>
<rect x="759.0" y="470.79" width="45.2" height="4.57" fill="rgb(0,26,255)"/>
<rect x="759.0" y="474.76" width="45.2" height="4.57" fill="rgb(0,15,255)"/>
<rect x="759.0" y="478.73" width="45.2" height="4.57" fill="rgb(0,5,255)"/>
<g style="font-family:'Liberation Sans',Arial,sans-serif" font-size="23.5" fill="#000">
<text x="809.5" y="96.4">41.0</text>
<text x="809.5" y="136.1">31.9</text>
<text x="809.5" y="175.8">22.8</text>
<text x="809.5" y="215.5">13.7</text>
<text x="809.5" y="255.2">4.6</text>
<text x="809.5" y="294.9">-4.5</text>
<text x="809.5" y="334.5">-13.6</text>
<text x="809.5" y="374.2">-22.7</text>
<text x="809.5" y="413.9">-31.8</text>
<text x="809.5" y="453.6">-40.9</text>
<text x="809.5" y="493.3">-50.0</text>
</g>
<text x="764" y="54" style="font-family:'Liberation Sans',Arial,sans-serif" font-size="27">mJ·<tspan x="807.5">m</tspan><tspan font-size="16" dy="-13">-2</tspan></text><defs>
<pattern id="h1" patternUnits="userSpaceOnUse" x="1060.1" y="277.2" width="20.0" height="20.0"><path d="M-4,-4 L24.0,24.0 M24.0,-4 L-4,24.0 M-4,16.0 L4,24.0 M16.0,-4 L24.0,4 M16.0,24.0 L24.0,16.0 M-4,4 L4,-4" stroke="#008080" stroke-width="1.5" fill="none"/></pattern>
<pattern id="h2" patternUnits="userSpaceOnUse" x="1132.5" y="187.9" width="20.0" height="20.0"><path d="M-4,-4 L24.0,24.0 M24.0,-4 L-4,24.0 M-4,16.0 L4,24.0 M16.0,-4 L24.0,4 M16.0,24.0 L24.0,16.0 M-4,4 L4,-4" stroke="#d40000" stroke-width="1.5" fill="none"/></pattern>
<pattern id="h3" patternUnits="userSpaceOnUse" x="1267.0" y="277.2" width="20.0" height="20.0"><path d="M-4,-4 L24.0,24.0 M24.0,-4 L-4,24.0 M-4,16.0 L4,24.0 M16.0,-4 L24.0,4 M16.0,24.0 L24.0,16.0 M-4,4 L4,-4" stroke="#008080" stroke-width="1.5" fill="none"/></pattern>
<pattern id="h4" patternUnits="userSpaceOnUse" x="1339.4" y="111.7" width="20.0" height="20.0"><path d="M-4,-4 L24.0,24.0 M24.0,-4 L-4,24.0 M-4,16.0 L4,24.0 M16.0,-4 L24.0,4 M16.0,24.0 L24.0,16.0 M-4,4 L4,-4" stroke="#d40000" stroke-width="1.5" fill="none"/></pattern>
<pattern id="h5" patternUnits="userSpaceOnUse" x="1473.9" y="216.2" width="20.0" height="20.0"><path d="M-4,-4 L24.0,24.0 M24.0,-4 L-4,24.0 M-4,16.0 L4,24.0 M16.0,-4 L24.0,4 M16.0,24.0 L24.0,16.0 M-4,4 L4,-4" stroke="#008080" stroke-width="1.5" fill="none"/></pattern>
<pattern id="h6" patternUnits="userSpaceOnUse" x="1546.3" y="75.7" width="20.0" height="20.0"><path d="M-4,-4 L24.0,24.0 M24.0,-4 L-4,24.0 M-4,16.0 L4,24.0 M16.0,-4 L24.0,4 M16.0,24.0 L24.0,16.0 M-4,4 L4,-4" stroke="#d40000" stroke-width="1.5" fill="none"/></pattern>
<pattern id="h7" patternUnits="userSpaceOnUse" x="1248.2" y="436.7" width="20.0" height="20.0"><path d="M-4,-4 L24.0,24.0 M24.0,-4 L-4,24.0 M-4,16.0 L4,24.0 M16.0,-4 L24.0,4 M16.0,24.0 L24.0,16.0 M-4,4 L4,-4" stroke="#008080" stroke-width="1.5" fill="none"/></pattern>
<pattern id="h8" patternUnits="userSpaceOnUse" x="1430.4" y="436.7" width="20.0" height="20.0"><path d="M-4,-4 L24.0,24.0 M24.0,-4 L-4,24.0 M-4,16.0 L4,24.0 M16.0,-4 L24.0,4 M16.0,24.0 L24.0,16.0 M-4,4 L4,-4" stroke="#d40000" stroke-width="1.5" fill="none"/></pattern>
</defs>
<rect x="1060.1" y="277.2" width="35.0" height="188.4" fill="url(#h1)" stroke="#008080" stroke-width="2.1"/>
<rect x="1095.2" y="276.7" width="37.6" height="120.8" fill="#008080"/>
<rect x="1132.5" y="187.9" width="35.8" height="89.3" fill="url(#h2)" stroke="#d40000" stroke-width="2.1"/>
<rect x="1168.4" y="234.2" width="37.6" height="43.5" fill="#d40000"/>
<rect x="1267.0" y="277.2" width="35.0" height="45.7" fill="url(#h3)" stroke="#008080" stroke-width="2.1"/>
<rect x="1302.1" y="239.7" width="37.6" height="38.0" fill="#008080"/>
<rect x="1339.4" y="111.7" width="35.8" height="165.5" fill="url(#h4)" stroke="#d40000" stroke-width="2.1"/>
<rect x="1375.3" y="221.2" width="37.6" height="56.5" fill="#d40000"/>
<rect x="1473.9" y="216.2" width="35.0" height="61.0" fill="url(#h5)" stroke="#008080" stroke-width="2.1"/>
<rect x="1509.0" y="134.0" width="37.6" height="143.7" fill="#008080"/>
<rect x="1546.3" y="75.7" width="35.8" height="201.5" fill="url(#h6)" stroke="#d40000" stroke-width="2.1"/>
<rect x="1582.2" y="217.9" width="37.6" height="59.8" fill="#d40000"/>
<path d="M1028.8,277.2 H1649.6" stroke="#000" stroke-width="2.9"/>
<g stroke="#000" stroke-width="2.7" fill="none"><rect x="1028.8" y="37.6" width="620.8" height="479.3"/><path d="M1029.3999999999999,495.0 h12.9 M1649.0,495.0 h-12.9 M1029.3999999999999,440.6 h6.0 M1649.0,440.6 h-6.0 M1029.3999999999999,386.1 h12.9 M1649.0,386.1 h-12.9 M1029.3999999999999,331.7 h6.0 M1649.0,331.7 h-6.0 M1029.3999999999999,277.2 h12.9 M1649.0,277.2 h-12.9 M1029.3999999999999,222.7 h6.0 M1649.0,222.7 h-6.0 M1029.3999999999999,168.3 h12.9 M1649.0,168.3 h-12.9 M1029.3999999999999,113.8 h6.0 M1649.0,113.8 h-6.0 M1029.3999999999999,59.4 h12.9 M1649.0,59.4 h-12.9 M1132.3,516.3 v-12.4 M1132.3,38.2 v12.4 M1235.7,516.3 v-6.0 M1235.7,38.2 v6.0 M1339.2,516.3 v-12.4 M1339.2,38.2 v12.4 M1442.7,516.3 v-6.0 M1442.7,38.2 v6.0 M1546.1,516.3 v-12.4 M1546.1,38.2 v12.4" stroke-linecap="round"/></g>
<g style="font-family:'Liberation Sans',Arial,sans-serif" font-size="21" text-anchor="middle" fill="#000"><text transform="translate(1077.0,488.9) scale(1,1.07)">-17.3</text><text transform="translate(1113.6,420.3) scale(1,1.07)">-11.0</text><text transform="translate(1149.5,179.7) scale(1,1.07)">8.2</text><text transform="translate(1186.1,226.5) scale(1,1.07)">3.9</text><text transform="translate(1283.9,346.2) scale(1,1.07)">-4.2</text><text transform="translate(1319.8,232.0) scale(1,1.07)">3.4</text><text transform="translate(1356.4,103.5) scale(1,1.07)">15.2</text><text transform="translate(1393.0,213.5) scale(1,1.07)">5.1</text><text transform="translate(1490.1,208.0) scale(1,1.07)">5.6</text><text transform="translate(1526.7,126.3) scale(1,1.07)">13.1</text><text transform="translate(1563.3,67.5) scale(1,1.07)">18.5</text><text transform="translate(1599.9,210.2) scale(1,1.07)">5.4</text></g>
<rect x="1247.2" y="383.7" width="59.6" height="29.0" fill="#008080" rx="1"/>
<rect x="1429.4" y="383.7" width="60.3" height="29.0" fill="#d40000" rx="1"/>
<rect x="1248.2" y="436.7" width="57.6" height="27.3" fill="url(#h7)" stroke="#008080" stroke-width="2.2"/>
<rect x="1430.4" y="436.7" width="58.3" height="27.3" fill="url(#h8)" stroke="#d40000" stroke-width="2.2"/>
<text x="1311.5" y="410.9" style="font-family:IPAGothic,serif" font-size="32">γ</text><text x="1327.3" y="392.4" style="font-family:'Liberation Sans',Arial,sans-serif" font-size="18">int</text><text x="1327.0" y="418.4" style="font-family:'Liberation Sans',Arial,sans-serif;font-style:italic" font-size="19">isf</text><text x="1354.5" y="407.4" style="font-family:'Liberation Sans',Arial,sans-serif" font-size="26.3">-LSF</text>
<text x="1493.6" y="410.9" style="font-family:IPAGothic,serif" font-size="32">γ</text><text x="1509.3999999999999" y="392.4" style="font-family:'Liberation Sans',Arial,sans-serif" font-size="18">mag</text><text x="1509.1" y="418.4" style="font-family:'Liberation Sans',Arial,sans-serif;font-style:italic" font-size="19">isf</text><text x="1552.6" y="407.4" style="font-family:'Liberation Sans',Arial,sans-serif" font-size="26.3">-LSF</text>
<text x="1311.5" y="462.9" style="font-family:IPAGothic,serif" font-size="32">γ</text><text x="1327.3" y="444.4" style="font-family:'Liberation Sans',Arial,sans-serif" font-size="18">int</text><text x="1327.0" y="470.4" style="font-family:'Liberation Sans',Arial,sans-serif;font-style:italic" font-size="19">isf</text><text x="1361.8" y="459.4" style="font-family:'Liberation Sans',Arial,sans-serif" font-size="26.3">-FS</text>
<text x="1493.6" y="462.9" style="font-family:IPAGothic,serif" font-size="32">γ</text><text x="1509.3999999999999" y="444.4" style="font-family:'Liberation Sans',Arial,sans-serif" font-size="18">mag</text><text x="1509.1" y="470.4" style="font-family:'Liberation Sans',Arial,sans-serif;font-style:italic" font-size="19">isf</text><text x="1552.6" y="459.4" style="font-family:'Liberation Sans',Arial,sans-serif" font-size="26.3">-FS</text>
<g style="font-family:'Liberation Sans',Arial,sans-serif" font-size="30" fill="#000">
<text transform="translate(1014,67.5) scale(1,1.035)" text-anchor="end">20</text>
<text transform="translate(1014,176.4) scale(1,1.035)" text-anchor="end">10</text>
<text transform="translate(1014,285.3) scale(1,1.035)" text-anchor="end">0</text>
<text transform="translate(1014,394.2) scale(1,1.035)" text-anchor="end">-10</text>
<text transform="translate(1014,503.1) scale(1,1.035)" text-anchor="end">-20</text>
<text transform="translate(1132.3,555.6) scale(1,1.035)" text-anchor="middle">300</text>
<text transform="translate(1339.2,555.6) scale(1,1.035)" text-anchor="middle">600</text>
<text transform="translate(1546.1,555.6) scale(1,1.035)" text-anchor="middle">900</text>
</g>
<text x="1340.6" y="613.5" style="font-family:'Liberation Sans',Arial,sans-serif" font-size="36.7" text-anchor="middle"><tspan font-style="italic">T</tspan> (K)</text>
<text transform="translate(939.1,305.9) rotate(-90)" style="font-family:'Liberation Sans',Arial,sans-serif" font-size="36.7" text-anchor="middle"><tspan style="font-family:'Liberation Serif',serif">γ</tspan><tspan dx="-2.5"> (</tspan>mJ·m<tspan font-size="22" dy="-19">-2</tspan><tspan dy="19">)</tspan></text>
<text x="1027" y="22.5" style="font-family:'Liberation Sans',Arial,sans-serif" font-size="31" font-weight="bold">(b)</text>
</svg></body></html>
